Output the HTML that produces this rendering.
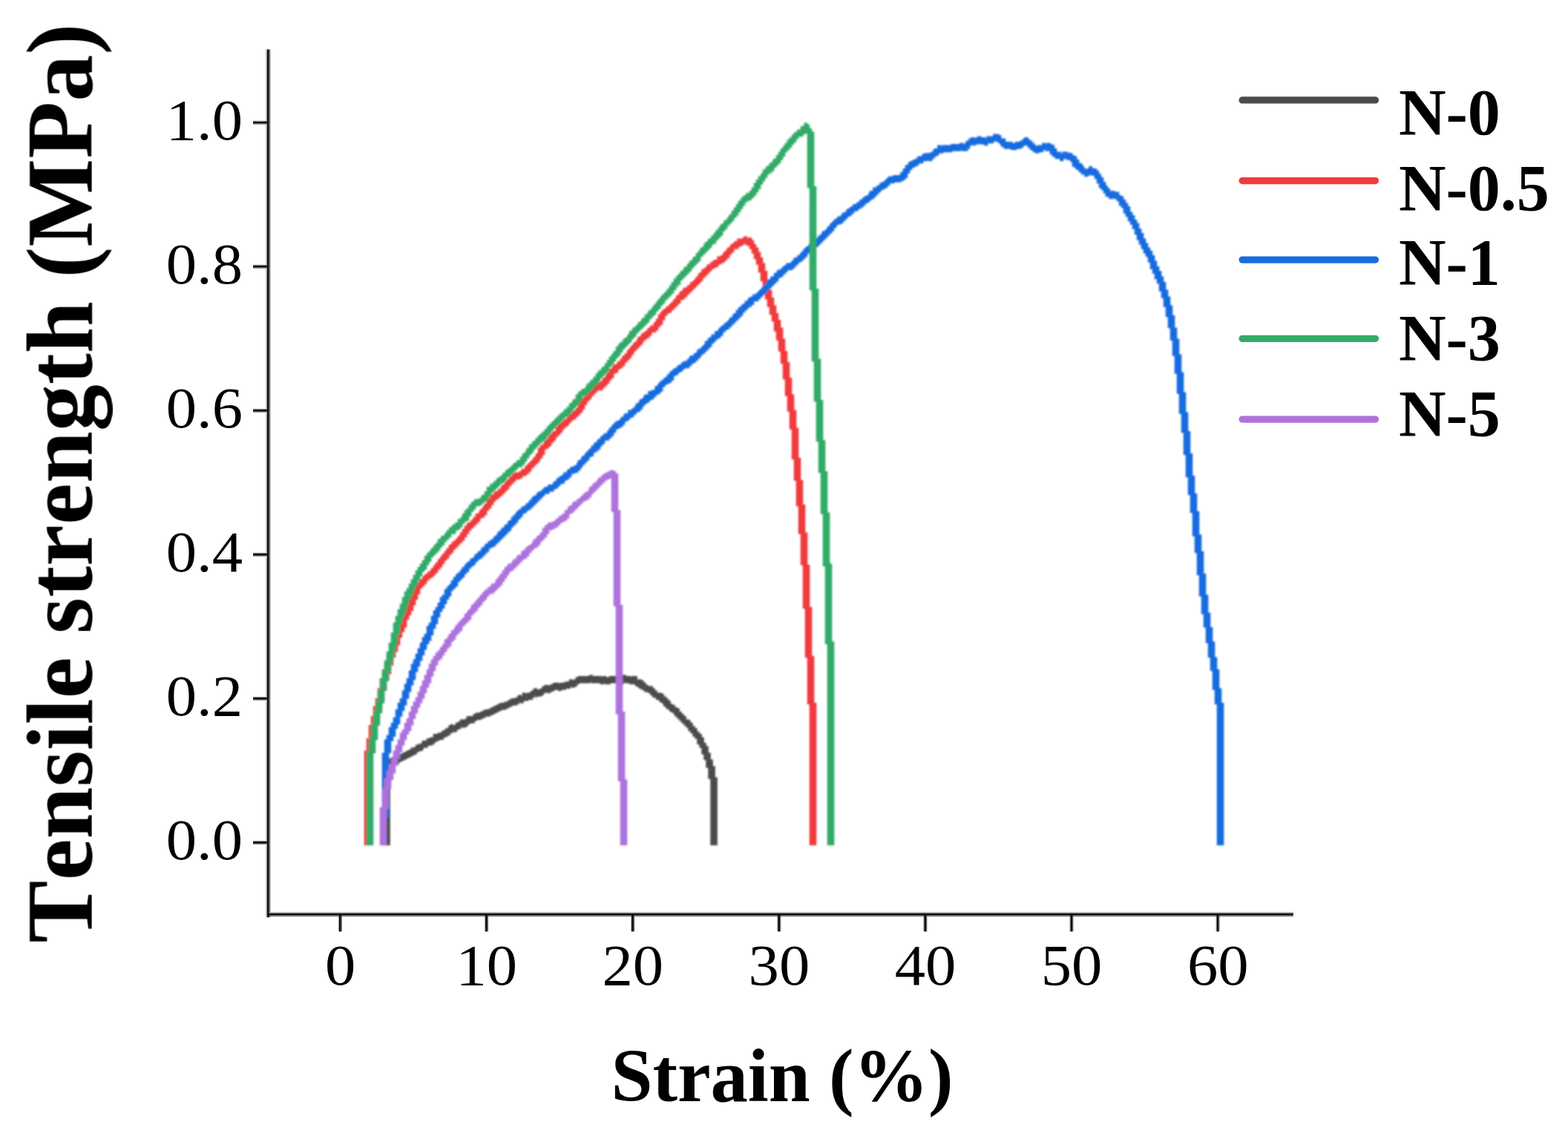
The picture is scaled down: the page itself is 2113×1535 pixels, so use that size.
<!DOCTYPE html>
<html lang="en">
<head>
<meta charset="utf-8">
<title>Tensile strength vs Strain</title>
<style>
html,body{margin:0;padding:0;background:#fff;}
body{width:2113px;height:1535px;overflow:hidden;}
svg{display:block;}
text{font-family:"Liberation Serif",serif;fill:#000;font-kerning:none;}
.t{font-weight:400;}
.b{font-weight:700;}
</style>
</head>
<body>
<svg width="2113" height="1535" viewBox="0 0 2113 1535" role="img" aria-label="Tensile strength (MPa) versus strain (%) for samples N-0, N-0.5, N-1, N-3 and N-5">
<defs><filter id="soft" x="0" y="0" width="2113" height="1535" filterUnits="userSpaceOnUse"><feGaussianBlur stdDeviation="0.7"/></filter>
<filter id="soft2" x="0" y="0" width="2113" height="1535" filterUnits="userSpaceOnUse"><feGaussianBlur stdDeviation="0.8"/></filter></defs>
<rect x="0" y="0" width="2113" height="1535" fill="#ffffff"/>
<g filter="url(#soft)">
<rect x="455.85" y="1232.20" width="1.10" height="23.20" fill="#aaaaaa"/><rect x="459.65" y="1232.20" width="1.30" height="23.20" fill="#707070"/>
<rect x="652.95" y="1232.20" width="1.10" height="23.20" fill="#aaaaaa"/><rect x="656.75" y="1232.20" width="1.30" height="23.20" fill="#707070"/>
<rect x="850.05" y="1232.20" width="1.10" height="23.20" fill="#aaaaaa"/><rect x="853.85" y="1232.20" width="1.30" height="23.20" fill="#707070"/>
<rect x="1047.15" y="1232.20" width="1.10" height="23.20" fill="#aaaaaa"/><rect x="1050.95" y="1232.20" width="1.30" height="23.20" fill="#707070"/>
<rect x="1244.25" y="1232.20" width="1.10" height="23.20" fill="#aaaaaa"/><rect x="1248.05" y="1232.20" width="1.30" height="23.20" fill="#707070"/>
<rect x="1441.35" y="1232.20" width="1.10" height="23.20" fill="#aaaaaa"/><rect x="1445.15" y="1232.20" width="1.30" height="23.20" fill="#707070"/>
<rect x="1638.45" y="1232.20" width="1.10" height="23.20" fill="#aaaaaa"/><rect x="1642.25" y="1232.20" width="1.30" height="23.20" fill="#707070"/>
<rect x="341.00" y="1132.85" width="20.30" height="1.20" fill="#aaaaaa"/><rect x="341.00" y="1136.75" width="20.30" height="1.20" fill="#707070"/>
<rect x="341.00" y="938.79" width="20.30" height="1.20" fill="#aaaaaa"/><rect x="341.00" y="942.69" width="20.30" height="1.20" fill="#707070"/>
<rect x="341.00" y="744.73" width="20.30" height="1.20" fill="#aaaaaa"/><rect x="341.00" y="748.63" width="20.30" height="1.20" fill="#707070"/>
<rect x="341.00" y="550.67" width="20.30" height="1.20" fill="#aaaaaa"/><rect x="341.00" y="554.57" width="20.30" height="1.20" fill="#707070"/>
<rect x="341.00" y="356.61" width="20.30" height="1.20" fill="#aaaaaa"/><rect x="341.00" y="360.51" width="20.30" height="1.20" fill="#707070"/>
<rect x="341.00" y="162.55" width="20.30" height="1.20" fill="#aaaaaa"/><rect x="341.00" y="166.45" width="20.30" height="1.20" fill="#707070"/>
<rect x="358.30" y="66.60" width="1.70" height="1169.70" fill="#aaaaaa"/><rect x="362.60" y="66.60" width="1.70" height="1169.70" fill="#707070"/>
<rect x="360.30" y="1229.20" width="1382.50" height="1.70" fill="#aaaaaa"/><rect x="360.30" y="1233.50" width="1382.50" height="1.70" fill="#707070"/>
<rect x="456.95" y="1232.20" width="2.70" height="23.20" fill="#0c0c0c"/>
<rect x="654.05" y="1232.20" width="2.70" height="23.20" fill="#0c0c0c"/>
<rect x="851.15" y="1232.20" width="2.70" height="23.20" fill="#0c0c0c"/>
<rect x="1048.25" y="1232.20" width="2.70" height="23.20" fill="#0c0c0c"/>
<rect x="1245.35" y="1232.20" width="2.70" height="23.20" fill="#0c0c0c"/>
<rect x="1442.45" y="1232.20" width="2.70" height="23.20" fill="#0c0c0c"/>
<rect x="1639.55" y="1232.20" width="2.70" height="23.20" fill="#0c0c0c"/>
<rect x="341.00" y="1134.05" width="20.30" height="2.70" fill="#0c0c0c"/>
<rect x="341.00" y="939.99" width="20.30" height="2.70" fill="#0c0c0c"/>
<rect x="341.00" y="745.93" width="20.30" height="2.70" fill="#0c0c0c"/>
<rect x="341.00" y="551.87" width="20.30" height="2.70" fill="#0c0c0c"/>
<rect x="341.00" y="357.81" width="20.30" height="2.70" fill="#0c0c0c"/>
<rect x="341.00" y="163.75" width="20.30" height="2.70" fill="#0c0c0c"/>
<rect x="360.00" y="66.60" width="2.60" height="1169.70" fill="#0c0c0c"/>
<rect x="360.30" y="1230.90" width="1382.50" height="2.60" fill="#0c0c0c"/>
<text class="t" transform="translate(458.6,1327) scale(1.06,1)" text-anchor="middle" font-size="78">0</text>
<text class="t" transform="translate(655.7,1327) scale(1.06,1)" text-anchor="middle" font-size="78">10</text>
<text class="t" transform="translate(852.8,1327) scale(1.06,1)" text-anchor="middle" font-size="78">20</text>
<text class="t" transform="translate(1049.9,1327) scale(1.06,1)" text-anchor="middle" font-size="78">30</text>
<text class="t" transform="translate(1247.0,1327) scale(1.06,1)" text-anchor="middle" font-size="78">40</text>
<text class="t" transform="translate(1444.1,1327) scale(1.06,1)" text-anchor="middle" font-size="78">50</text>
<text class="t" transform="translate(1641.2,1327) scale(1.06,1)" text-anchor="middle" font-size="78">60</text>
<text class="t" transform="translate(327.0,1158.4) scale(1.06,1)" text-anchor="end" font-size="78">0.0</text>
<text class="t" transform="translate(327.0,964.3) scale(1.06,1)" text-anchor="end" font-size="78">0.2</text>
<text class="t" transform="translate(327.0,770.3) scale(1.06,1)" text-anchor="end" font-size="78">0.4</text>
<text class="t" transform="translate(327.0,576.2) scale(1.06,1)" text-anchor="end" font-size="78">0.6</text>
<text class="t" transform="translate(327.0,382.2) scale(1.06,1)" text-anchor="end" font-size="78">0.8</text>
<text class="t" transform="translate(327.0,188.1) scale(1.06,1)" text-anchor="end" font-size="78">1.0</text>
<text class="b" x="1054.0" y="1484.4" text-anchor="middle" font-size="100.6">Strain (%)</text>
<text class="b" transform="translate(123.6,651.2) rotate(-90)" text-anchor="middle" font-size="126">Tensile strength (MPa)</text>
</g><g filter="url(#soft2)">
<path d="M516.2 1028.1h2.1v111.2h-2.1zM517.7 1028.1h2.1v111.2h-2.1zM519.2 1026.6h2.1v112.7h-2.1zM520.7 1023.6h2.1v115.7h-2.1zM522.2 1023.6h2.1v115.7h-2.1zM523.7 1022.1h2.1v117.2h-2.1zM525.2 1022.1h2.1v9.6h-2.1zM526.7 1020.6h2.1v11.1h-2.1zM528.2 1020.6h2.1v9.6h-2.1zM529.7 1020.6h2.1v11.1h-2.1zM531.2 1022.1h2.1v9.6h-2.1zM532.7 1020.6h2.1v11.1h-2.1zM534.2 1020.6h2.1v9.6h-2.1zM535.7 1019.1h2.1v11.1h-2.1zM537.2 1017.6h2.1v9.6h-2.1zM538.7 1016.1h2.1v11.1h-2.1zM540.2 1016.1h2.1v9.6h-2.1zM541.7 1014.6h2.1v11.1h-2.1zM543.2 1014.6h2.1v9.6h-2.1zM544.7 1013.1h2.1v11.1h-2.1zM546.2 1013.1h2.1v9.6h-2.1zM547.7 1011.6h2.1v11.1h-2.1zM549.2 1011.6h2.1v9.6h-2.1zM550.7 1010.1h2.1v11.1h-2.1zM552.2 1010.1h2.1v9.6h-2.1zM553.7 1007.1h2.1v12.6h-2.1zM555.2 1008.6h2.1v9.6h-2.1zM556.7 1007.1h2.1v11.1h-2.1zM558.2 1007.1h2.1v9.6h-2.1zM559.7 1004.1h2.1v12.6h-2.1zM561.2 1004.1h2.1v9.6h-2.1zM562.7 1002.6h2.1v11.1h-2.1zM564.2 1002.6h2.1v9.6h-2.1zM565.7 1002.6h2.1v9.6h-2.1zM567.2 1001.1h2.1v11.1h-2.1zM568.7 998.1h2.1v12.6h-2.1zM570.2 998.1h2.1v9.6h-2.1zM571.7 998.1h2.1v9.6h-2.1zM573.2 998.1h2.1v9.6h-2.1zM574.7 995.1h2.1v12.6h-2.1zM576.2 995.1h2.1v9.6h-2.1zM577.7 995.1h2.1v9.6h-2.1zM579.2 993.6h2.1v11.1h-2.1zM580.7 993.6h2.1v11.1h-2.1zM582.2 993.6h2.1v9.6h-2.1zM583.7 989.1h2.1v14.1h-2.1zM585.2 989.1h2.1v11.1h-2.1zM586.7 989.1h2.1v11.1h-2.1zM588.2 989.1h2.1v9.6h-2.1zM589.7 987.6h2.1v11.1h-2.1zM591.2 987.6h2.1v9.6h-2.1zM592.7 987.6h2.1v9.6h-2.1zM594.2 986.1h2.1v11.1h-2.1zM595.7 984.6h2.1v12.6h-2.1zM597.2 984.6h2.1v9.6h-2.1zM598.7 983.1h2.1v11.1h-2.1zM600.2 981.6h2.1v11.1h-2.1zM601.7 981.6h2.1v11.1h-2.1zM603.2 980.1h2.1v11.1h-2.1zM604.7 977.1h2.1v14.1h-2.1zM606.2 977.1h2.1v11.1h-2.1zM607.7 975.6h2.1v12.6h-2.1zM609.2 977.1h2.1v9.6h-2.1zM610.7 977.1h2.1v9.6h-2.1zM612.2 977.1h2.1v9.6h-2.1zM613.7 974.1h2.1v12.6h-2.1zM615.2 974.1h2.1v9.6h-2.1zM616.7 972.6h2.1v11.1h-2.1zM618.2 972.6h2.1v9.6h-2.1zM619.7 969.6h2.1v12.6h-2.1zM621.2 969.6h2.1v9.6h-2.1zM622.7 969.6h2.1v11.1h-2.1zM624.2 969.6h2.1v11.1h-2.1zM625.7 969.6h2.1v11.1h-2.1zM627.2 968.1h2.1v11.1h-2.1zM628.7 965.1h2.1v14.1h-2.1zM630.2 965.1h2.1v11.1h-2.1zM631.7 965.1h2.1v11.1h-2.1zM633.2 965.1h2.1v9.6h-2.1zM634.7 965.1h2.1v9.6h-2.1zM636.2 965.1h2.1v9.6h-2.1zM637.7 962.1h2.1v12.6h-2.1zM639.2 962.1h2.1v9.6h-2.1zM640.7 960.6h2.1v11.1h-2.1zM642.2 960.6h2.1v9.6h-2.1zM643.7 960.6h2.1v9.6h-2.1zM645.2 960.6h2.1v9.6h-2.1zM646.7 959.1h2.1v11.1h-2.1zM648.2 959.1h2.1v9.6h-2.1zM649.7 957.6h2.1v11.1h-2.1zM651.2 957.6h2.1v9.6h-2.1zM652.7 956.1h2.1v11.1h-2.1zM654.2 956.1h2.1v9.6h-2.1zM655.7 956.1h2.1v9.6h-2.1zM657.2 956.1h2.1v9.6h-2.1zM658.7 954.6h2.1v11.1h-2.1zM660.2 954.6h2.1v9.6h-2.1zM661.7 953.1h2.1v11.1h-2.1zM663.2 953.1h2.1v9.6h-2.1zM664.7 951.6h2.1v11.1h-2.1zM666.2 951.6h2.1v9.6h-2.1zM667.7 950.1h2.1v11.1h-2.1zM669.2 950.1h2.1v9.6h-2.1zM670.7 948.6h2.1v11.1h-2.1zM672.2 948.6h2.1v9.6h-2.1zM673.7 947.1h2.1v11.1h-2.1zM675.2 947.1h2.1v9.6h-2.1zM676.7 947.1h2.1v9.6h-2.1zM678.2 947.1h2.1v9.6h-2.1zM679.7 945.6h2.1v11.1h-2.1zM681.2 945.6h2.1v9.6h-2.1zM682.7 945.6h2.1v9.6h-2.1zM684.2 944.1h2.1v9.6h-2.1zM685.7 942.6h2.1v11.1h-2.1zM687.2 942.6h2.1v9.6h-2.1zM688.7 941.1h2.1v11.1h-2.1zM690.2 941.1h2.1v9.6h-2.1zM691.7 941.1h2.1v9.6h-2.1zM693.2 941.1h2.1v9.6h-2.1zM694.7 939.6h2.1v11.1h-2.1zM696.2 939.6h2.1v9.6h-2.1zM697.7 936.6h2.1v12.6h-2.1zM699.2 936.6h2.1v9.6h-2.1zM700.7 936.6h2.1v11.1h-2.1zM702.2 938.1h2.1v9.6h-2.1zM703.7 933.6h2.1v14.1h-2.1zM705.2 933.6h2.1v11.1h-2.1zM706.7 933.6h2.1v11.1h-2.1zM708.2 935.1h2.1v9.6h-2.1zM709.7 933.6h2.1v11.1h-2.1zM711.2 933.6h2.1v9.6h-2.1zM712.7 933.6h2.1v9.6h-2.1zM714.2 932.1h2.1v11.1h-2.1zM715.7 930.6h2.1v12.6h-2.1zM717.2 930.6h2.1v9.6h-2.1zM718.7 927.6h2.1v12.6h-2.1zM720.2 927.6h2.1v9.6h-2.1zM721.7 927.6h2.1v12.6h-2.1zM723.2 929.1h2.1v9.6h-2.1zM724.7 929.1h2.1v9.6h-2.1zM726.2 929.1h2.1v9.6h-2.1zM727.7 927.6h2.1v11.1h-2.1zM729.2 927.6h2.1v9.6h-2.1zM730.7 924.6h2.1v12.6h-2.1zM732.2 924.6h2.1v9.6h-2.1zM733.7 923.1h2.1v11.1h-2.1zM735.2 923.1h2.1v9.6h-2.1zM736.7 923.1h2.1v11.1h-2.1zM738.2 924.6h2.1v9.6h-2.1zM739.7 923.1h2.1v11.1h-2.1zM741.2 923.1h2.1v9.6h-2.1zM742.7 921.6h2.1v11.1h-2.1zM744.2 921.6h2.1v9.6h-2.1zM745.7 920.1h2.1v11.1h-2.1zM747.2 920.1h2.1v9.6h-2.1zM748.7 920.1h2.1v9.6h-2.1zM750.2 920.1h2.1v9.6h-2.1zM751.7 920.1h2.1v11.1h-2.1zM753.2 921.6h2.1v9.6h-2.1zM754.7 920.1h2.1v11.1h-2.1zM756.2 920.1h2.1v9.6h-2.1zM757.7 920.1h2.1v9.6h-2.1zM759.2 920.1h2.1v9.6h-2.1zM760.7 918.6h2.1v11.1h-2.1zM762.2 918.6h2.1v9.6h-2.1zM763.7 918.6h2.1v9.6h-2.1zM765.2 918.6h2.1v9.6h-2.1zM766.7 915.6h2.1v12.6h-2.1zM768.2 915.6h2.1v9.6h-2.1zM769.7 915.6h2.1v11.1h-2.1zM771.2 917.1h2.1v9.6h-2.1zM772.7 915.6h2.1v11.1h-2.1zM774.2 915.6h2.1v9.6h-2.1zM775.7 912.6h2.1v12.6h-2.1zM777.2 912.6h2.1v9.6h-2.1zM778.7 911.1h2.1v11.1h-2.1zM780.2 911.1h2.1v9.6h-2.1zM781.7 911.1h2.1v9.6h-2.1zM783.2 911.1h2.1v9.6h-2.1zM784.7 911.1h2.1v9.6h-2.1zM786.2 911.1h2.1v9.6h-2.1zM787.7 911.1h2.1v9.6h-2.1zM789.2 911.1h2.1v9.6h-2.1zM790.7 911.1h2.1v9.6h-2.1zM792.2 911.1h2.1v9.6h-2.1zM793.7 909.6h2.1v11.1h-2.1zM795.2 909.6h2.1v9.6h-2.1zM796.7 909.6h2.1v11.1h-2.1zM798.2 911.1h2.1v9.6h-2.1zM799.7 911.1h2.1v9.6h-2.1zM801.2 911.1h2.1v9.6h-2.1zM802.7 911.1h2.1v9.6h-2.1zM804.2 911.1h2.1v9.6h-2.1zM805.7 911.1h2.1v9.6h-2.1zM807.2 911.1h2.1v9.6h-2.1zM808.7 911.1h2.1v11.1h-2.1zM810.2 912.6h2.1v9.6h-2.1zM811.7 911.1h2.1v11.1h-2.1zM813.2 911.1h2.1v9.6h-2.1zM814.7 911.1h2.1v11.1h-2.1zM816.2 912.6h2.1v9.6h-2.1zM817.7 912.6h2.1v9.6h-2.1zM819.2 912.6h2.1v9.6h-2.1zM820.7 911.1h2.1v11.1h-2.1zM822.2 911.1h2.1v9.6h-2.1zM823.7 911.1h2.1v9.6h-2.1zM825.2 911.1h2.1v9.6h-2.1zM826.7 911.1h2.1v9.6h-2.1zM828.2 911.1h2.1v9.6h-2.1zM829.7 911.1h2.1v9.6h-2.1zM831.2 911.1h2.1v9.6h-2.1zM832.7 911.1h2.1v9.6h-2.1zM834.2 911.1h2.1v9.6h-2.1zM835.7 911.1h2.1v11.1h-2.1zM837.2 912.6h2.1v9.6h-2.1zM838.7 909.6h2.1v12.6h-2.1zM840.2 909.6h2.1v9.6h-2.1zM841.7 909.6h2.1v11.1h-2.1zM843.2 911.1h2.1v9.6h-2.1zM844.7 911.1h2.1v9.6h-2.1zM846.2 911.1h2.1v9.6h-2.1zM847.7 911.1h2.1v11.1h-2.1zM849.2 912.6h2.1v9.6h-2.1zM850.7 911.1h2.1v11.1h-2.1zM852.2 911.1h2.1v11.1h-2.1zM853.7 911.1h2.1v11.1h-2.1zM855.2 911.1h2.1v12.6h-2.1zM856.7 911.1h2.1v14.1h-2.1zM858.2 915.6h2.1v9.6h-2.1zM859.7 915.6h2.1v11.1h-2.1zM861.2 915.6h2.1v12.6h-2.1zM862.7 915.6h2.1v12.6h-2.1zM864.2 917.1h2.1v12.6h-2.1zM865.7 917.1h2.1v12.6h-2.1zM867.2 920.1h2.1v11.1h-2.1zM868.7 920.1h2.1v12.6h-2.1zM870.2 923.1h2.1v9.6h-2.1zM871.7 923.1h2.1v9.6h-2.1zM873.2 924.6h2.1v9.6h-2.1zM874.7 924.6h2.1v9.6h-2.1zM876.2 924.6h2.1v12.6h-2.1zM877.7 924.6h2.1v12.6h-2.1zM879.2 927.6h2.1v12.6h-2.1zM880.7 927.6h2.1v12.6h-2.1zM882.2 930.6h2.1v9.6h-2.1zM883.7 930.6h2.1v12.6h-2.1zM885.2 933.6h2.1v9.6h-2.1zM886.7 933.6h2.1v9.6h-2.1zM888.2 933.6h2.1v12.6h-2.1zM889.7 933.6h2.1v12.6h-2.1zM891.2 935.1h2.1v12.6h-2.1zM892.7 935.1h2.1v14.1h-2.1zM894.2 939.6h2.1v12.6h-2.1zM895.7 938.1h2.1v14.1h-2.1zM897.2 941.1h2.1v14.1h-2.1zM898.7 941.1h2.1v14.1h-2.1zM900.2 944.1h2.1v12.6h-2.1zM901.7 944.1h2.1v14.1h-2.1zM903.2 948.6h2.1v11.1h-2.1zM904.7 948.6h2.1v11.1h-2.1zM906.2 950.1h2.1v11.1h-2.1zM907.7 950.1h2.1v12.6h-2.1zM909.2 953.1h2.1v12.6h-2.1zM910.7 953.1h2.1v12.6h-2.1zM912.2 954.6h2.1v14.1h-2.1zM913.7 954.6h2.1v14.1h-2.1zM915.2 959.1h2.1v12.6h-2.1zM916.7 959.1h2.1v12.6h-2.1zM918.2 962.1h2.1v12.6h-2.1zM919.7 962.1h2.1v12.6h-2.1zM921.2 965.1h2.1v12.6h-2.1zM922.7 965.1h2.1v12.6h-2.1zM924.2 969.6h2.1v11.1h-2.1zM925.7 969.6h2.1v11.1h-2.1zM927.2 969.6h2.1v15.6h-2.1zM928.7 971.1h2.1v14.1h-2.1zM930.2 974.1h2.1v14.1h-2.1zM931.7 974.1h2.1v14.1h-2.1zM933.2 978.6h2.1v14.1h-2.1zM934.7 978.6h2.1v14.1h-2.1zM936.2 981.6h2.1v14.1h-2.1zM937.7 981.6h2.1v14.1h-2.1zM939.2 986.1h2.1v17.1h-2.1zM940.7 986.1h2.1v17.1h-2.1zM942.2 989.1h2.1v18.6h-2.1zM943.7 989.1h2.1v18.6h-2.1zM945.2 993.6h2.1v23.1h-2.1zM946.7 993.6h2.1v23.1h-2.1zM948.2 1001.1h2.1v23.1h-2.1zM949.7 1001.1h2.1v23.1h-2.1zM951.2 1005.6h2.1v29.1h-2.1zM952.7 1005.6h2.1v29.1h-2.1zM954.2 1014.6h2.1v35.1h-2.1zM955.7 1014.6h2.1v35.1h-2.1zM957.2 1023.6h2.1v115.7h-2.1zM958.7 1023.6h2.1v115.7h-2.1zM960.2 1032.6h2.1v106.7h-2.1zM961.7 1032.6h2.1v106.7h-2.1zM963.2 1047.6h2.1v91.7h-2.1zM964.7 1047.6h2.1v91.7h-2.1z" fill="#4b4b4b"/>
<path d="M490.7 1011.6h2.1v127.7h-2.1zM492.2 1011.6h2.1v127.7h-2.1zM493.7 995.1h2.1v144.2h-2.1zM495.2 995.1h2.1v144.2h-2.1zM496.7 977.1h2.1v162.2h-2.1zM498.2 977.1h2.1v162.2h-2.1zM499.7 965.1h2.1v50.1h-2.1zM501.2 965.1h2.1v50.1h-2.1zM502.7 951.6h2.1v45.6h-2.1zM504.2 951.6h2.1v45.6h-2.1zM505.7 941.1h2.1v38.1h-2.1zM507.2 941.1h2.1v38.1h-2.1zM508.7 927.6h2.1v39.6h-2.1zM510.2 927.6h2.1v39.6h-2.1zM511.7 915.6h2.1v38.1h-2.1zM513.2 915.6h2.1v38.1h-2.1zM514.7 906.6h2.1v36.6h-2.1zM516.2 906.6h2.1v36.6h-2.1zM517.7 896.1h2.1v33.6h-2.1zM519.2 896.1h2.1v33.6h-2.1zM520.7 885.6h2.1v32.1h-2.1zM522.2 885.6h2.1v32.1h-2.1zM523.7 876.6h2.1v32.1h-2.1zM525.2 876.6h2.1v32.1h-2.1zM526.7 867.6h2.1v29.1h-2.1zM528.2 867.6h2.1v29.1h-2.1zM529.7 857.1h2.1v29.1h-2.1zM531.2 857.1h2.1v29.1h-2.1zM532.7 849.6h2.1v29.1h-2.1zM534.2 849.6h2.1v29.1h-2.1zM535.7 843.6h2.1v26.1h-2.1zM537.2 843.6h2.1v26.1h-2.1zM538.7 833.1h2.1v26.1h-2.1zM540.2 833.1h2.1v26.1h-2.1zM541.7 827.1h2.1v24.6h-2.1zM543.2 827.1h2.1v24.6h-2.1zM544.7 821.1h2.1v24.6h-2.1zM546.2 821.1h2.1v24.6h-2.1zM547.7 812.1h2.1v23.1h-2.1zM549.2 812.1h2.1v23.1h-2.1zM550.7 807.6h2.1v21.6h-2.1zM552.2 807.6h2.1v21.6h-2.1zM553.7 798.6h2.1v24.6h-2.1zM555.2 798.6h2.1v24.6h-2.1zM556.7 791.1h2.1v24.6h-2.1zM558.2 791.1h2.1v24.6h-2.1zM559.7 786.6h2.1v21.6h-2.1zM561.2 786.6h2.1v21.6h-2.1zM562.7 785.1h2.1v15.6h-2.1zM564.2 782.1h2.1v18.6h-2.1zM565.7 780.6h2.1v12.6h-2.1zM567.2 780.6h2.1v12.6h-2.1zM568.7 777.6h2.1v12.6h-2.1zM570.2 776.1h2.1v14.1h-2.1zM571.7 774.6h2.1v12.6h-2.1zM573.2 773.1h2.1v14.1h-2.1zM574.7 773.1h2.1v9.6h-2.1zM576.2 770.1h2.1v12.6h-2.1zM577.7 770.1h2.1v9.6h-2.1zM579.2 768.6h2.1v11.1h-2.1zM580.7 765.6h2.1v12.6h-2.1zM582.2 765.6h2.1v12.6h-2.1zM583.7 762.6h2.1v12.6h-2.1zM585.2 761.1h2.1v14.1h-2.1zM586.7 758.1h2.1v14.1h-2.1zM588.2 758.1h2.1v14.1h-2.1zM589.7 753.6h2.1v14.1h-2.1zM591.2 753.6h2.1v14.1h-2.1zM592.7 750.6h2.1v14.1h-2.1zM594.2 749.1h2.1v15.6h-2.1zM595.7 746.1h2.1v14.1h-2.1zM597.2 746.1h2.1v14.1h-2.1zM598.7 743.1h2.1v12.6h-2.1zM600.2 741.6h2.1v14.1h-2.1zM601.7 738.6h2.1v14.1h-2.1zM603.2 738.6h2.1v14.1h-2.1zM604.7 734.1h2.1v14.1h-2.1zM606.2 734.1h2.1v14.1h-2.1zM607.7 732.6h2.1v12.6h-2.1zM609.2 729.6h2.1v15.6h-2.1zM610.7 729.6h2.1v11.1h-2.1zM612.2 728.1h2.1v12.6h-2.1zM613.7 726.6h2.1v11.1h-2.1zM615.2 725.1h2.1v12.6h-2.1zM616.7 722.1h2.1v12.6h-2.1zM618.2 722.1h2.1v12.6h-2.1zM619.7 717.6h2.1v14.1h-2.1zM621.2 717.6h2.1v14.1h-2.1zM622.7 713.1h2.1v15.6h-2.1zM624.2 713.1h2.1v15.6h-2.1zM625.7 708.6h2.1v15.6h-2.1zM627.2 708.6h2.1v15.6h-2.1zM628.7 705.6h2.1v14.1h-2.1zM630.2 704.1h2.1v15.6h-2.1zM631.7 704.1h2.1v11.1h-2.1zM633.2 702.6h2.1v12.6h-2.1zM634.7 701.1h2.1v11.1h-2.1zM636.2 699.6h2.1v12.6h-2.1zM637.7 696.6h2.1v12.6h-2.1zM639.2 696.6h2.1v12.6h-2.1zM640.7 692.1h2.1v14.1h-2.1zM642.2 692.1h2.1v14.1h-2.1zM643.7 692.1h2.1v11.1h-2.1zM645.2 689.1h2.1v14.1h-2.1zM646.7 686.1h2.1v12.6h-2.1zM648.2 686.1h2.1v12.6h-2.1zM649.7 683.1h2.1v14.1h-2.1zM651.2 681.6h2.1v15.6h-2.1zM652.7 678.6h2.1v15.6h-2.1zM654.2 678.6h2.1v15.6h-2.1zM655.7 672.6h2.1v15.6h-2.1zM657.2 672.6h2.1v15.6h-2.1zM658.7 671.1h2.1v14.1h-2.1zM660.2 668.1h2.1v17.1h-2.1zM661.7 666.6h2.1v14.1h-2.1zM663.2 666.6h2.1v14.1h-2.1zM664.7 665.1h2.1v11.1h-2.1zM666.2 662.1h2.1v14.1h-2.1zM667.7 662.1h2.1v11.1h-2.1zM669.2 662.1h2.1v11.1h-2.1zM670.7 659.1h2.1v12.6h-2.1zM672.2 659.1h2.1v11.1h-2.1zM673.7 657.6h2.1v11.1h-2.1zM675.2 654.6h2.1v14.1h-2.1zM676.7 653.1h2.1v12.6h-2.1zM678.2 653.1h2.1v12.6h-2.1zM679.7 650.1h2.1v12.6h-2.1zM681.2 648.6h2.1v14.1h-2.1zM682.7 647.1h2.1v12.6h-2.1zM684.2 645.6h2.1v14.1h-2.1zM685.7 642.6h2.1v12.6h-2.1zM687.2 642.6h2.1v12.6h-2.1zM688.7 641.1h2.1v11.1h-2.1zM690.2 638.1h2.1v14.1h-2.1zM691.7 638.1h2.1v11.1h-2.1zM693.2 636.6h2.1v12.6h-2.1zM694.7 636.6h2.1v9.6h-2.1zM696.2 636.6h2.1v9.6h-2.1zM697.7 636.6h2.1v9.6h-2.1zM699.2 635.1h2.1v11.1h-2.1zM700.7 635.1h2.1v9.6h-2.1zM702.2 632.1h2.1v12.6h-2.1zM703.7 632.1h2.1v9.6h-2.1zM705.2 632.1h2.1v9.6h-2.1zM706.7 629.1h2.1v12.6h-2.1zM708.2 627.6h2.1v12.6h-2.1zM709.7 626.1h2.1v12.6h-2.1zM711.2 624.6h2.1v14.1h-2.1zM712.7 623.1h2.1v12.6h-2.1zM714.2 621.6h2.1v14.1h-2.1zM715.7 620.1h2.1v11.1h-2.1zM717.2 618.6h2.1v12.6h-2.1zM718.7 615.6h2.1v12.6h-2.1zM720.2 615.6h2.1v12.6h-2.1zM721.7 611.1h2.1v14.1h-2.1zM723.2 611.1h2.1v14.1h-2.1zM724.7 603.6h2.1v18.6h-2.1zM726.2 603.6h2.1v18.6h-2.1zM727.7 600.6h2.1v17.1h-2.1zM729.2 599.1h2.1v18.6h-2.1zM730.7 599.1h2.1v14.1h-2.1zM732.2 596.1h2.1v17.1h-2.1zM733.7 593.1h2.1v12.6h-2.1zM735.2 593.1h2.1v12.6h-2.1zM736.7 591.6h2.1v12.6h-2.1zM738.2 588.6h2.1v15.6h-2.1zM739.7 585.6h2.1v15.6h-2.1zM741.2 585.6h2.1v15.6h-2.1zM742.7 584.1h2.1v12.6h-2.1zM744.2 581.1h2.1v15.6h-2.1zM745.7 581.1h2.1v12.6h-2.1zM747.2 581.1h2.1v12.6h-2.1zM748.7 575.1h2.1v14.1h-2.1zM750.2 575.1h2.1v14.1h-2.1zM751.7 572.1h2.1v14.1h-2.1zM753.2 570.6h2.1v15.6h-2.1zM754.7 570.6h2.1v12.6h-2.1zM756.2 567.6h2.1v15.6h-2.1zM757.7 567.6h2.1v11.1h-2.1zM759.2 566.1h2.1v12.6h-2.1zM760.7 564.6h2.1v11.1h-2.1zM762.2 564.6h2.1v11.1h-2.1zM763.7 561.6h2.1v12.6h-2.1zM765.2 560.1h2.1v12.6h-2.1zM766.7 558.6h2.1v11.1h-2.1zM768.2 557.1h2.1v12.6h-2.1zM769.7 557.1h2.1v9.6h-2.1zM771.2 554.1h2.1v12.6h-2.1zM772.7 554.1h2.1v11.1h-2.1zM774.2 552.6h2.1v12.6h-2.1zM775.7 549.6h2.1v12.6h-2.1zM777.2 549.6h2.1v12.6h-2.1zM778.7 543.6h2.1v15.6h-2.1zM780.2 543.6h2.1v15.6h-2.1zM781.7 539.1h2.1v17.1h-2.1zM783.2 539.1h2.1v17.1h-2.1zM784.7 536.1h2.1v15.6h-2.1zM786.2 534.6h2.1v17.1h-2.1zM787.7 531.6h2.1v14.1h-2.1zM789.2 531.6h2.1v14.1h-2.1zM790.7 528.6h2.1v12.6h-2.1zM792.2 528.6h2.1v12.6h-2.1zM793.7 525.6h2.1v12.6h-2.1zM795.2 524.1h2.1v14.1h-2.1zM796.7 522.6h2.1v11.1h-2.1zM798.2 521.1h2.1v12.6h-2.1zM799.7 519.6h2.1v11.1h-2.1zM801.2 518.1h2.1v12.6h-2.1zM802.7 518.1h2.1v9.6h-2.1zM804.2 515.1h2.1v12.6h-2.1zM805.7 515.1h2.1v9.6h-2.1zM807.2 515.1h2.1v11.1h-2.1zM808.7 513.6h2.1v12.6h-2.1zM810.2 513.6h2.1v12.6h-2.1zM811.7 509.1h2.1v14.1h-2.1zM813.2 509.1h2.1v14.1h-2.1zM814.7 507.6h2.1v12.6h-2.1zM816.2 504.6h2.1v15.6h-2.1zM817.7 501.6h2.1v15.6h-2.1zM819.2 501.6h2.1v15.6h-2.1zM820.7 497.1h2.1v15.6h-2.1zM822.2 497.1h2.1v15.6h-2.1zM823.7 495.6h2.1v14.1h-2.1zM825.2 492.6h2.1v17.1h-2.1zM826.7 491.1h2.1v12.6h-2.1zM828.2 491.1h2.1v12.6h-2.1zM829.7 491.1h2.1v11.1h-2.1zM831.2 488.1h2.1v14.1h-2.1zM832.7 486.6h2.1v11.1h-2.1zM834.2 486.6h2.1v11.1h-2.1zM835.7 483.6h2.1v12.6h-2.1zM837.2 482.1h2.1v14.1h-2.1zM838.7 479.1h2.1v14.1h-2.1zM840.2 479.1h2.1v14.1h-2.1zM841.7 476.1h2.1v12.6h-2.1zM843.2 476.1h2.1v12.6h-2.1zM844.7 471.6h2.1v14.1h-2.1zM846.2 471.6h2.1v14.1h-2.1zM847.7 468.6h2.1v14.1h-2.1zM849.2 467.1h2.1v15.6h-2.1zM850.7 465.6h2.1v12.6h-2.1zM852.2 464.1h2.1v14.1h-2.1zM853.7 461.1h2.1v12.6h-2.1zM855.2 461.1h2.1v12.6h-2.1zM856.7 459.6h2.1v11.1h-2.1zM858.2 456.6h2.1v14.1h-2.1zM859.7 453.6h2.1v14.1h-2.1zM861.2 453.6h2.1v14.1h-2.1zM862.7 452.1h2.1v12.6h-2.1zM864.2 449.1h2.1v15.6h-2.1zM865.7 449.1h2.1v11.1h-2.1zM867.2 447.6h2.1v12.6h-2.1zM868.7 446.1h2.1v11.1h-2.1zM870.2 446.1h2.1v11.1h-2.1zM871.7 443.1h2.1v12.6h-2.1zM873.2 441.6h2.1v14.1h-2.1zM874.7 441.6h2.1v11.1h-2.1zM876.2 438.6h2.1v14.1h-2.1zM877.7 438.6h2.1v9.6h-2.1zM879.2 438.6h2.1v9.6h-2.1zM880.7 434.1h2.1v14.1h-2.1zM882.2 434.1h2.1v14.1h-2.1zM883.7 429.6h2.1v15.6h-2.1zM885.2 429.6h2.1v15.6h-2.1zM886.7 423.6h2.1v17.1h-2.1zM888.2 423.6h2.1v17.1h-2.1zM889.7 420.6h2.1v17.1h-2.1zM891.2 419.1h2.1v18.6h-2.1zM892.7 417.6h2.1v14.1h-2.1zM894.2 416.1h2.1v15.6h-2.1zM895.7 416.1h2.1v9.6h-2.1zM897.2 413.1h2.1v12.6h-2.1zM898.7 413.1h2.1v9.6h-2.1zM900.2 411.6h2.1v11.1h-2.1zM901.7 410.1h2.1v11.1h-2.1zM903.2 408.6h2.1v12.6h-2.1zM904.7 407.1h2.1v11.1h-2.1zM906.2 405.6h2.1v12.6h-2.1zM907.7 402.6h2.1v12.6h-2.1zM909.2 402.6h2.1v12.6h-2.1zM910.7 398.1h2.1v14.1h-2.1zM912.2 398.1h2.1v14.1h-2.1zM913.7 396.6h2.1v12.6h-2.1zM915.2 393.6h2.1v15.6h-2.1zM916.7 392.1h2.1v12.6h-2.1zM918.2 392.1h2.1v12.6h-2.1zM919.7 389.1h2.1v14.1h-2.1zM921.2 387.6h2.1v15.6h-2.1zM922.7 387.6h2.1v12.6h-2.1zM924.2 387.6h2.1v12.6h-2.1zM925.7 384.6h2.1v12.6h-2.1zM927.2 384.6h2.1v12.6h-2.1zM928.7 383.1h2.1v11.1h-2.1zM930.2 380.1h2.1v14.1h-2.1zM931.7 380.1h2.1v11.1h-2.1zM933.2 378.6h2.1v12.6h-2.1zM934.7 377.1h2.1v11.1h-2.1zM936.2 375.6h2.1v12.6h-2.1zM937.7 372.6h2.1v12.6h-2.1zM939.2 372.6h2.1v12.6h-2.1zM940.7 368.1h2.1v14.1h-2.1zM942.2 368.1h2.1v14.1h-2.1zM943.7 366.6h2.1v12.6h-2.1zM945.2 363.6h2.1v15.6h-2.1zM946.7 362.1h2.1v12.6h-2.1zM948.2 362.1h2.1v12.6h-2.1zM949.7 360.6h2.1v11.1h-2.1zM951.2 359.1h2.1v12.6h-2.1zM952.7 356.1h2.1v12.6h-2.1zM954.2 356.1h2.1v12.6h-2.1zM955.7 356.1h2.1v9.6h-2.1zM957.2 353.1h2.1v12.6h-2.1zM958.7 353.1h2.1v9.6h-2.1zM960.2 351.6h2.1v11.1h-2.1zM961.7 350.1h2.1v11.1h-2.1zM963.2 350.1h2.1v11.1h-2.1zM964.7 350.1h2.1v9.6h-2.1zM966.2 345.6h2.1v14.1h-2.1zM967.7 345.6h2.1v11.1h-2.1zM969.2 345.6h2.1v11.1h-2.1zM970.7 344.1h2.1v11.1h-2.1zM972.2 344.1h2.1v11.1h-2.1zM973.7 341.1h2.1v12.6h-2.1zM975.2 339.6h2.1v14.1h-2.1zM976.7 338.1h2.1v12.6h-2.1zM978.2 336.6h2.1v14.1h-2.1zM979.7 333.6h2.1v14.1h-2.1zM981.2 333.6h2.1v14.1h-2.1zM982.7 332.1h2.1v11.1h-2.1zM984.2 329.1h2.1v14.1h-2.1zM985.7 329.1h2.1v11.1h-2.1zM987.2 327.6h2.1v12.6h-2.1zM988.7 326.1h2.1v9.6h-2.1zM990.2 324.6h2.1v11.1h-2.1zM991.7 326.1h2.1v9.6h-2.1zM993.2 321.6h2.1v14.1h-2.1zM994.7 321.6h2.1v11.1h-2.1zM996.2 321.6h2.1v11.1h-2.1zM997.7 321.6h2.1v9.6h-2.1zM999.2 321.6h2.1v9.6h-2.1zM1000.7 320.1h2.1v9.6h-2.1zM1002.2 318.6h2.1v11.1h-2.1zM1003.7 318.6h2.1v9.6h-2.1zM1005.2 318.6h2.1v12.6h-2.1zM1006.7 321.6h2.1v9.6h-2.1zM1008.2 320.1h2.1v11.1h-2.1zM1009.7 320.1h2.1v15.6h-2.1zM1011.2 320.1h2.1v15.6h-2.1zM1012.7 323.1h2.1v18.6h-2.1zM1014.2 324.6h2.1v17.1h-2.1zM1015.7 329.1h2.1v20.1h-2.1zM1017.2 329.1h2.1v20.1h-2.1zM1018.7 333.6h2.1v23.1h-2.1zM1020.2 333.6h2.1v23.1h-2.1zM1021.7 339.6h2.1v27.6h-2.1zM1023.2 339.6h2.1v27.6h-2.1zM1024.7 347.1h2.1v32.1h-2.1zM1026.2 347.1h2.1v32.1h-2.1zM1027.7 354.6h2.1v38.1h-2.1zM1029.2 354.6h2.1v38.1h-2.1zM1030.7 365.1h2.1v38.1h-2.1zM1032.2 365.1h2.1v38.1h-2.1zM1033.7 377.1h2.1v36.6h-2.1zM1035.2 377.1h2.1v36.6h-2.1zM1036.7 390.6h2.1v33.6h-2.1zM1038.2 390.6h2.1v33.6h-2.1zM1039.7 401.1h2.1v32.1h-2.1zM1041.2 401.1h2.1v32.1h-2.1zM1042.7 411.6h2.1v35.1h-2.1zM1044.2 411.6h2.1v35.1h-2.1zM1045.7 422.1h2.1v36.6h-2.1zM1047.2 422.1h2.1v36.6h-2.1zM1048.7 431.1h2.1v42.6h-2.1zM1050.2 431.1h2.1v42.6h-2.1zM1051.7 441.6h2.1v48.6h-2.1zM1053.2 441.6h2.1v48.6h-2.1zM1054.7 456.6h2.1v54.6h-2.1zM1056.2 456.6h2.1v54.6h-2.1zM1057.7 473.1h2.1v60.6h-2.1zM1059.2 473.1h2.1v60.6h-2.1zM1060.7 488.1h2.1v66.6h-2.1zM1062.2 488.1h2.1v66.6h-2.1zM1063.7 509.1h2.1v69.6h-2.1zM1065.2 509.1h2.1v69.6h-2.1zM1066.7 531.6h2.1v87.6h-2.1zM1068.2 531.6h2.1v87.6h-2.1zM1069.7 552.6h2.1v95.1h-2.1zM1071.2 552.6h2.1v95.1h-2.1zM1072.7 576.6h2.1v105.6h-2.1zM1074.2 576.6h2.1v105.6h-2.1zM1075.7 617.1h2.1v102.6h-2.1zM1077.2 617.1h2.1v102.6h-2.1zM1078.7 647.1h2.1v114.6h-2.1zM1080.2 647.1h2.1v114.6h-2.1zM1081.7 680.1h2.1v140.1h-2.1zM1083.2 680.1h2.1v140.1h-2.1zM1084.7 717.6h2.1v168.6h-2.1zM1086.2 717.6h2.1v168.6h-2.1zM1087.7 761.1h2.1v188.1h-2.1zM1089.2 761.1h2.1v188.1h-2.1zM1090.7 818.1h2.1v321.2h-2.1zM1092.2 818.1h2.1v321.2h-2.1zM1093.7 884.1h2.1v255.2h-2.1zM1095.2 884.1h2.1v255.2h-2.1zM1096.7 947.1h2.1v192.2h-2.1zM1098.2 947.1h2.1v192.2h-2.1z" fill="#F03A3C"/>
<path d="M514.7 1014.6h2.1v87.6h-2.1zM516.2 1014.6h2.1v87.6h-2.1zM517.7 996.6h2.1v105.6h-2.1zM519.2 996.6h2.1v105.6h-2.1zM520.7 990.6h2.1v111.6h-2.1zM522.2 990.6h2.1v111.6h-2.1zM523.7 980.1h2.1v35.1h-2.1zM525.2 980.1h2.1v35.1h-2.1zM526.7 974.1h2.1v24.6h-2.1zM528.2 974.1h2.1v24.6h-2.1zM529.7 966.6h2.1v26.1h-2.1zM531.2 966.6h2.1v26.1h-2.1zM532.7 956.1h2.1v9.6h-2.1zM532.7 966.6h2.1v15.6h-2.1zM534.2 956.1h2.1v26.1h-2.1zM535.7 947.1h2.1v29.1h-2.1zM537.2 947.1h2.1v29.1h-2.1zM538.7 941.1h2.1v24.6h-2.1zM540.2 941.1h2.1v24.6h-2.1zM541.7 930.6h2.1v27.6h-2.1zM543.2 930.6h2.1v27.6h-2.1zM544.7 921.6h2.1v29.1h-2.1zM546.2 921.6h2.1v29.1h-2.1zM547.7 914.1h2.1v27.6h-2.1zM549.2 914.1h2.1v27.6h-2.1zM550.7 903.6h2.1v29.1h-2.1zM552.2 903.6h2.1v29.1h-2.1zM553.7 894.6h2.1v29.1h-2.1zM555.2 894.6h2.1v29.1h-2.1zM556.7 888.6h2.1v27.6h-2.1zM558.2 888.6h2.1v27.6h-2.1zM559.7 881.1h2.1v24.6h-2.1zM561.2 881.1h2.1v24.6h-2.1zM562.7 873.6h2.1v24.6h-2.1zM564.2 873.6h2.1v24.6h-2.1zM565.7 866.1h2.1v24.6h-2.1zM567.2 866.1h2.1v24.6h-2.1zM568.7 858.6h2.1v24.6h-2.1zM570.2 858.6h2.1v24.6h-2.1zM571.7 854.1h2.1v21.6h-2.1zM573.2 854.1h2.1v21.6h-2.1zM574.7 843.6h2.1v24.6h-2.1zM576.2 843.6h2.1v24.6h-2.1zM577.7 839.1h2.1v24.6h-2.1zM579.2 839.1h2.1v24.6h-2.1zM580.7 830.1h2.1v26.1h-2.1zM582.2 830.1h2.1v26.1h-2.1zM583.7 822.6h2.1v24.6h-2.1zM585.2 822.6h2.1v24.6h-2.1zM586.7 818.1h2.1v23.1h-2.1zM588.2 818.1h2.1v23.1h-2.1zM589.7 812.1h2.1v20.1h-2.1zM591.2 812.1h2.1v20.1h-2.1zM592.7 804.6h2.1v20.1h-2.1zM594.2 804.6h2.1v20.1h-2.1zM595.7 801.6h2.1v18.6h-2.1zM597.2 801.6h2.1v18.6h-2.1zM598.7 794.1h2.1v20.1h-2.1zM600.2 794.1h2.1v20.1h-2.1zM601.7 791.1h2.1v17.1h-2.1zM603.2 789.6h2.1v18.6h-2.1zM604.7 788.1h2.1v15.6h-2.1zM606.2 786.6h2.1v17.1h-2.1zM607.7 782.1h2.1v14.1h-2.1zM609.2 782.1h2.1v14.1h-2.1zM610.7 777.6h2.1v15.6h-2.1zM612.2 777.6h2.1v15.6h-2.1zM613.7 774.6h2.1v15.6h-2.1zM615.2 773.1h2.1v17.1h-2.1zM616.7 771.6h2.1v12.6h-2.1zM618.2 771.6h2.1v12.6h-2.1zM619.7 768.6h2.1v12.6h-2.1zM621.2 767.1h2.1v14.1h-2.1zM622.7 764.1h2.1v14.1h-2.1zM624.2 764.1h2.1v14.1h-2.1zM625.7 761.1h2.1v12.6h-2.1zM627.2 759.6h2.1v14.1h-2.1zM628.7 758.1h2.1v12.6h-2.1zM630.2 756.6h2.1v14.1h-2.1zM631.7 756.6h2.1v9.6h-2.1zM633.2 753.6h2.1v12.6h-2.1zM634.7 752.1h2.1v11.1h-2.1zM636.2 752.1h2.1v11.1h-2.1zM637.7 750.6h2.1v11.1h-2.1zM639.2 747.6h2.1v12.6h-2.1zM640.7 746.1h2.1v11.1h-2.1zM642.2 746.1h2.1v11.1h-2.1zM643.7 743.1h2.1v11.1h-2.1zM645.2 743.1h2.1v11.1h-2.1zM646.7 741.6h2.1v11.1h-2.1zM648.2 738.6h2.1v14.1h-2.1zM649.7 737.1h2.1v12.6h-2.1zM651.2 737.1h2.1v12.6h-2.1zM652.7 734.1h2.1v12.6h-2.1zM654.2 732.6h2.1v14.1h-2.1zM655.7 732.6h2.1v11.1h-2.1zM657.2 729.6h2.1v14.1h-2.1zM658.7 729.6h2.1v9.6h-2.1zM660.2 728.1h2.1v11.1h-2.1zM661.7 726.6h2.1v11.1h-2.1zM663.2 726.6h2.1v11.1h-2.1zM664.7 723.6h2.1v12.6h-2.1zM666.2 722.1h2.1v14.1h-2.1zM667.7 722.1h2.1v11.1h-2.1zM669.2 719.1h2.1v14.1h-2.1zM670.7 716.1h2.1v14.1h-2.1zM672.2 716.1h2.1v14.1h-2.1zM673.7 714.6h2.1v12.6h-2.1zM675.2 711.6h2.1v15.6h-2.1zM676.7 711.6h2.1v12.6h-2.1zM678.2 710.1h2.1v14.1h-2.1zM679.7 707.1h2.1v14.1h-2.1zM681.2 707.1h2.1v14.1h-2.1zM682.7 705.6h2.1v12.6h-2.1zM684.2 702.6h2.1v15.6h-2.1zM685.7 701.1h2.1v14.1h-2.1zM687.2 701.1h2.1v14.1h-2.1zM688.7 696.6h2.1v14.1h-2.1zM690.2 696.6h2.1v14.1h-2.1zM691.7 693.6h2.1v14.1h-2.1zM693.2 693.6h2.1v14.1h-2.1zM694.7 690.6h2.1v14.1h-2.1zM696.2 689.1h2.1v15.6h-2.1zM697.7 687.6h2.1v12.6h-2.1zM699.2 686.1h2.1v14.1h-2.1zM700.7 686.1h2.1v11.1h-2.1zM702.2 683.1h2.1v14.1h-2.1zM703.7 683.1h2.1v9.6h-2.1zM705.2 681.6h2.1v11.1h-2.1zM706.7 681.6h2.1v9.6h-2.1zM708.2 678.6h2.1v12.6h-2.1zM709.7 678.6h2.1v9.6h-2.1zM711.2 677.1h2.1v11.1h-2.1zM712.7 674.1h2.1v12.6h-2.1zM714.2 674.1h2.1v12.6h-2.1zM715.7 671.1h2.1v12.6h-2.1zM717.2 669.6h2.1v14.1h-2.1zM718.7 668.1h2.1v12.6h-2.1zM720.2 668.1h2.1v12.6h-2.1zM721.7 666.6h2.1v11.1h-2.1zM723.2 663.6h2.1v14.1h-2.1zM724.7 663.6h2.1v11.1h-2.1zM726.2 662.1h2.1v12.6h-2.1zM727.7 662.1h2.1v9.6h-2.1zM729.2 660.6h2.1v11.1h-2.1zM730.7 659.1h2.1v9.6h-2.1zM732.2 657.6h2.1v11.1h-2.1zM733.7 656.1h2.1v9.6h-2.1zM735.2 656.1h2.1v9.6h-2.1zM736.7 656.1h2.1v9.6h-2.1zM738.2 653.1h2.1v12.6h-2.1zM739.7 653.1h2.1v9.6h-2.1zM741.2 653.1h2.1v9.6h-2.1zM742.7 653.1h2.1v9.6h-2.1zM744.2 651.6h2.1v11.1h-2.1zM745.7 648.6h2.1v11.1h-2.1zM747.2 648.6h2.1v11.1h-2.1zM748.7 647.1h2.1v11.1h-2.1zM750.2 644.1h2.1v14.1h-2.1zM751.7 644.1h2.1v11.1h-2.1zM753.2 642.6h2.1v12.6h-2.1zM754.7 641.1h2.1v11.1h-2.1zM756.2 641.1h2.1v11.1h-2.1zM757.7 639.6h2.1v12.6h-2.1zM759.2 636.6h2.1v14.1h-2.1zM760.7 636.6h2.1v11.1h-2.1zM762.2 636.6h2.1v11.1h-2.1zM763.7 633.6h2.1v12.6h-2.1zM765.2 632.1h2.1v14.1h-2.1zM766.7 632.1h2.1v11.1h-2.1zM768.2 629.1h2.1v14.1h-2.1zM769.7 629.1h2.1v9.6h-2.1zM771.2 629.1h2.1v9.6h-2.1zM772.7 627.6h2.1v11.1h-2.1zM774.2 627.6h2.1v9.6h-2.1zM775.7 626.1h2.1v11.1h-2.1zM777.2 623.1h2.1v14.1h-2.1zM778.7 620.1h2.1v14.1h-2.1zM780.2 620.1h2.1v14.1h-2.1zM781.7 618.6h2.1v12.6h-2.1zM783.2 615.6h2.1v14.1h-2.1zM784.7 614.1h2.1v12.6h-2.1zM786.2 614.1h2.1v12.6h-2.1zM787.7 611.1h2.1v12.6h-2.1zM789.2 609.6h2.1v14.1h-2.1zM790.7 608.1h2.1v12.6h-2.1zM792.2 606.6h2.1v14.1h-2.1zM793.7 605.1h2.1v11.1h-2.1zM795.2 603.6h2.1v12.6h-2.1zM796.7 600.6h2.1v14.1h-2.1zM798.2 600.6h2.1v14.1h-2.1zM799.7 597.6h2.1v12.6h-2.1zM801.2 596.1h2.1v14.1h-2.1zM802.7 596.1h2.1v11.1h-2.1zM804.2 593.1h2.1v15.6h-2.1zM805.7 591.6h2.1v14.1h-2.1zM807.2 591.6h2.1v14.1h-2.1zM808.7 588.6h2.1v12.6h-2.1zM810.2 587.1h2.1v14.1h-2.1zM811.7 587.1h2.1v11.1h-2.1zM813.2 584.1h2.1v14.1h-2.1zM814.7 584.1h2.1v9.6h-2.1zM816.2 584.1h2.1v9.6h-2.1zM817.7 581.1h2.1v12.6h-2.1zM819.2 579.6h2.1v14.1h-2.1zM820.7 576.6h2.1v14.1h-2.1zM822.2 576.6h2.1v14.1h-2.1zM823.7 573.6h2.1v14.1h-2.1zM825.2 572.1h2.1v15.6h-2.1zM826.7 570.6h2.1v12.6h-2.1zM828.2 569.1h2.1v14.1h-2.1zM829.7 567.6h2.1v11.1h-2.1zM831.2 567.6h2.1v11.1h-2.1zM832.7 566.1h2.1v11.1h-2.1zM834.2 566.1h2.1v11.1h-2.1zM835.7 563.1h2.1v12.6h-2.1zM837.2 561.6h2.1v14.1h-2.1zM838.7 561.6h2.1v11.1h-2.1zM840.2 558.6h2.1v14.1h-2.1zM841.7 557.1h2.1v11.1h-2.1zM843.2 557.1h2.1v11.1h-2.1zM844.7 557.1h2.1v9.6h-2.1zM846.2 552.6h2.1v14.1h-2.1zM847.7 552.6h2.1v11.1h-2.1zM849.2 552.6h2.1v11.1h-2.1zM850.7 551.1h2.1v11.1h-2.1zM852.2 549.6h2.1v12.6h-2.1zM853.7 549.6h2.1v9.6h-2.1zM855.2 546.6h2.1v12.6h-2.1zM856.7 543.6h2.1v12.6h-2.1zM858.2 543.6h2.1v12.6h-2.1zM859.7 542.1h2.1v12.6h-2.1zM861.2 539.1h2.1v15.6h-2.1zM862.7 537.6h2.1v14.1h-2.1zM864.2 537.6h2.1v14.1h-2.1zM865.7 536.1h2.1v11.1h-2.1zM867.2 533.1h2.1v14.1h-2.1zM868.7 531.6h2.1v12.6h-2.1zM870.2 531.6h2.1v12.6h-2.1zM871.7 531.6h2.1v11.1h-2.1zM873.2 527.1h2.1v15.6h-2.1zM874.7 527.1h2.1v12.6h-2.1zM876.2 527.1h2.1v12.6h-2.1zM877.7 525.6h2.1v12.6h-2.1zM879.2 525.6h2.1v12.6h-2.1zM880.7 525.6h2.1v9.6h-2.1zM882.2 521.1h2.1v14.1h-2.1zM883.7 519.6h2.1v12.6h-2.1zM885.2 519.6h2.1v12.6h-2.1zM886.7 516.6h2.1v14.1h-2.1zM888.2 515.1h2.1v15.6h-2.1zM889.7 513.6h2.1v14.1h-2.1zM891.2 512.1h2.1v15.6h-2.1zM892.7 512.1h2.1v9.6h-2.1zM894.2 509.1h2.1v12.6h-2.1zM895.7 509.1h2.1v9.6h-2.1zM897.2 507.6h2.1v11.1h-2.1zM898.7 504.6h2.1v12.6h-2.1zM900.2 504.6h2.1v12.6h-2.1zM901.7 501.6h2.1v14.1h-2.1zM903.2 500.1h2.1v15.6h-2.1zM904.7 500.1h2.1v12.6h-2.1zM906.2 497.1h2.1v15.6h-2.1zM907.7 497.1h2.1v9.6h-2.1zM909.2 495.6h2.1v11.1h-2.1zM910.7 495.6h2.1v9.6h-2.1zM912.2 492.6h2.1v12.6h-2.1zM913.7 492.6h2.1v9.6h-2.1zM915.2 491.1h2.1v11.1h-2.1zM916.7 491.1h2.1v9.6h-2.1zM918.2 488.1h2.1v12.6h-2.1zM919.7 488.1h2.1v9.6h-2.1zM921.2 486.6h2.1v11.1h-2.1zM922.7 486.6h2.1v9.6h-2.1zM924.2 486.6h2.1v9.6h-2.1zM925.7 483.6h2.1v12.6h-2.1zM927.2 483.6h2.1v12.6h-2.1zM928.7 480.6h2.1v12.6h-2.1zM930.2 479.1h2.1v14.1h-2.1zM931.7 479.1h2.1v11.1h-2.1zM933.2 479.1h2.1v11.1h-2.1zM934.7 476.1h2.1v12.6h-2.1zM936.2 476.1h2.1v12.6h-2.1zM937.7 474.6h2.1v11.1h-2.1zM939.2 471.6h2.1v14.1h-2.1zM940.7 470.1h2.1v12.6h-2.1zM942.2 470.1h2.1v12.6h-2.1zM943.7 468.6h2.1v11.1h-2.1zM945.2 467.1h2.1v11.1h-2.1zM946.7 465.6h2.1v11.1h-2.1zM948.2 464.1h2.1v12.6h-2.1zM949.7 459.6h2.1v14.1h-2.1zM951.2 459.6h2.1v14.1h-2.1zM952.7 458.1h2.1v12.6h-2.1zM954.2 455.1h2.1v15.6h-2.1zM955.7 455.1h2.1v12.6h-2.1zM957.2 453.6h2.1v14.1h-2.1zM958.7 450.6h2.1v12.6h-2.1zM960.2 450.6h2.1v12.6h-2.1zM961.7 450.6h2.1v9.6h-2.1zM963.2 446.1h2.1v14.1h-2.1zM964.7 446.1h2.1v11.1h-2.1zM966.2 446.1h2.1v11.1h-2.1zM967.7 443.1h2.1v12.6h-2.1zM969.2 441.6h2.1v14.1h-2.1zM970.7 440.1h2.1v12.6h-2.1zM972.2 438.6h2.1v14.1h-2.1zM973.7 438.6h2.1v9.6h-2.1zM975.2 435.6h2.1v12.6h-2.1zM976.7 435.6h2.1v9.6h-2.1zM978.2 434.1h2.1v11.1h-2.1zM979.7 432.6h2.1v11.1h-2.1zM981.2 431.1h2.1v12.6h-2.1zM982.7 428.1h2.1v12.6h-2.1zM984.2 428.1h2.1v12.6h-2.1zM985.7 426.6h2.1v11.1h-2.1zM987.2 423.6h2.1v14.1h-2.1zM988.7 422.1h2.1v12.6h-2.1zM990.2 422.1h2.1v12.6h-2.1zM991.7 417.6h2.1v14.1h-2.1zM993.2 417.6h2.1v14.1h-2.1zM994.7 414.6h2.1v14.1h-2.1zM996.2 413.1h2.1v15.6h-2.1zM997.7 413.1h2.1v12.6h-2.1zM999.2 410.1h2.1v15.6h-2.1zM1000.7 410.1h2.1v11.1h-2.1zM1002.2 408.6h2.1v12.6h-2.1zM1003.7 405.6h2.1v12.6h-2.1zM1005.2 405.6h2.1v12.6h-2.1zM1006.7 404.1h2.1v11.1h-2.1zM1008.2 401.1h2.1v14.1h-2.1zM1009.7 401.1h2.1v11.1h-2.1zM1011.2 399.6h2.1v14.1h-2.1zM1012.7 399.6h2.1v11.1h-2.1zM1014.2 396.6h2.1v14.1h-2.1zM1015.7 396.6h2.1v9.6h-2.1zM1017.2 396.6h2.1v9.6h-2.1zM1018.7 395.1h2.1v11.1h-2.1zM1020.2 393.6h2.1v12.6h-2.1zM1021.7 392.1h2.1v11.1h-2.1zM1023.2 390.6h2.1v12.6h-2.1zM1024.7 389.1h2.1v11.1h-2.1zM1026.2 387.6h2.1v12.6h-2.1zM1027.7 384.6h2.1v12.6h-2.1zM1029.2 384.6h2.1v12.6h-2.1zM1030.7 383.1h2.1v11.1h-2.1zM1032.2 380.1h2.1v14.1h-2.1zM1033.7 377.1h2.1v14.1h-2.1zM1035.2 377.1h2.1v14.1h-2.1zM1036.7 375.6h2.1v12.6h-2.1zM1038.2 372.6h2.1v15.6h-2.1zM1039.7 372.6h2.1v12.6h-2.1zM1041.2 372.6h2.1v12.6h-2.1zM1042.7 368.1h2.1v14.1h-2.1zM1044.2 368.1h2.1v14.1h-2.1zM1045.7 366.6h2.1v12.6h-2.1zM1047.2 363.6h2.1v15.6h-2.1zM1048.7 363.6h2.1v11.1h-2.1zM1050.2 363.6h2.1v11.1h-2.1zM1051.7 362.1h2.1v11.1h-2.1zM1053.2 360.6h2.1v12.6h-2.1zM1054.7 359.1h2.1v11.1h-2.1zM1056.2 357.6h2.1v12.6h-2.1zM1057.7 357.6h2.1v9.6h-2.1zM1059.2 354.6h2.1v12.6h-2.1zM1060.7 354.6h2.1v9.6h-2.1zM1062.2 354.6h2.1v9.6h-2.1zM1063.7 354.6h2.1v9.6h-2.1zM1065.2 353.1h2.1v11.1h-2.1zM1066.7 351.6h2.1v11.1h-2.1zM1068.2 350.1h2.1v12.6h-2.1zM1069.7 347.1h2.1v12.6h-2.1zM1071.2 347.1h2.1v12.6h-2.1zM1072.7 347.1h2.1v9.6h-2.1zM1074.2 344.1h2.1v12.6h-2.1zM1075.7 344.1h2.1v9.6h-2.1zM1077.2 342.6h2.1v11.1h-2.1zM1078.7 339.6h2.1v12.6h-2.1zM1080.2 339.6h2.1v12.6h-2.1zM1081.7 336.6h2.1v12.6h-2.1zM1083.2 335.1h2.1v14.1h-2.1zM1084.7 333.6h2.1v12.6h-2.1zM1086.2 332.1h2.1v14.1h-2.1zM1087.7 332.1h2.1v9.6h-2.1zM1089.2 329.1h2.1v12.6h-2.1zM1090.7 329.1h2.1v9.6h-2.1zM1092.2 327.6h2.1v11.1h-2.1zM1093.7 326.1h2.1v11.1h-2.1zM1095.2 324.6h2.1v12.6h-2.1zM1096.7 324.6h2.1v9.6h-2.1zM1098.2 321.6h2.1v12.6h-2.1zM1099.7 321.6h2.1v11.1h-2.1zM1101.2 320.1h2.1v12.6h-2.1zM1102.7 317.1h2.1v12.6h-2.1zM1104.2 317.1h2.1v12.6h-2.1zM1105.7 315.6h2.1v11.1h-2.1zM1107.2 312.6h2.1v14.1h-2.1zM1108.7 311.1h2.1v12.6h-2.1zM1110.2 311.1h2.1v12.6h-2.1zM1111.7 309.6h2.1v11.1h-2.1zM1113.2 308.1h2.1v12.6h-2.1zM1114.7 305.1h2.1v12.6h-2.1zM1116.2 305.1h2.1v12.6h-2.1zM1117.7 302.1h2.1v12.6h-2.1zM1119.2 300.6h2.1v14.1h-2.1zM1120.7 299.1h2.1v12.6h-2.1zM1122.2 297.6h2.1v14.1h-2.1zM1123.7 296.1h2.1v11.1h-2.1zM1125.2 294.6h2.1v12.6h-2.1zM1126.7 294.6h2.1v9.6h-2.1zM1128.2 291.6h2.1v11.1h-2.1zM1129.7 291.6h2.1v11.1h-2.1zM1131.2 291.6h2.1v11.1h-2.1zM1132.7 290.1h2.1v11.1h-2.1zM1134.2 287.1h2.1v14.1h-2.1zM1135.7 287.1h2.1v11.1h-2.1zM1137.2 285.6h2.1v12.6h-2.1zM1138.7 285.6h2.1v9.6h-2.1zM1140.2 282.6h2.1v12.6h-2.1zM1141.7 281.1h2.1v11.1h-2.1zM1143.2 281.1h2.1v11.1h-2.1zM1144.7 279.6h2.1v11.1h-2.1zM1146.2 278.1h2.1v12.6h-2.1zM1147.7 278.1h2.1v9.6h-2.1zM1149.2 275.1h2.1v12.6h-2.1zM1150.7 275.1h2.1v9.6h-2.1zM1152.2 275.1h2.1v9.6h-2.1zM1153.7 273.6h2.1v11.1h-2.1zM1155.2 272.1h2.1v11.1h-2.1zM1156.7 272.1h2.1v9.6h-2.1zM1158.2 269.1h2.1v12.6h-2.1zM1159.7 269.1h2.1v9.6h-2.1zM1161.2 267.6h2.1v12.6h-2.1zM1162.7 266.1h2.1v11.1h-2.1zM1164.2 264.6h2.1v12.6h-2.1zM1165.7 264.6h2.1v9.6h-2.1zM1167.2 263.1h2.1v11.1h-2.1zM1168.7 263.1h2.1v9.6h-2.1zM1170.2 260.1h2.1v12.6h-2.1zM1171.7 257.1h2.1v12.6h-2.1zM1173.2 257.1h2.1v12.6h-2.1zM1174.7 257.1h2.1v11.1h-2.1zM1176.2 252.6h2.1v15.6h-2.1zM1177.7 252.6h2.1v12.6h-2.1zM1179.2 252.6h2.1v12.6h-2.1zM1180.7 251.1h2.1v11.1h-2.1zM1182.2 249.6h2.1v12.6h-2.1zM1183.7 249.6h2.1v9.6h-2.1zM1185.2 246.6h2.1v12.6h-2.1zM1186.7 246.6h2.1v9.6h-2.1zM1188.2 245.1h2.1v11.1h-2.1zM1189.7 245.1h2.1v9.6h-2.1zM1191.2 243.6h2.1v11.1h-2.1zM1192.7 242.1h2.1v11.1h-2.1zM1194.2 240.6h2.1v12.6h-2.1zM1195.7 239.1h2.1v11.1h-2.1zM1197.2 237.6h2.1v12.6h-2.1zM1198.7 237.6h2.1v9.6h-2.1zM1200.2 237.6h2.1v9.6h-2.1zM1201.7 237.6h2.1v9.6h-2.1zM1203.2 236.1h2.1v11.1h-2.1zM1204.7 236.1h2.1v9.6h-2.1zM1206.2 236.1h2.1v9.6h-2.1zM1207.7 236.1h2.1v9.6h-2.1zM1209.2 236.1h2.1v9.6h-2.1zM1210.7 236.1h2.1v9.6h-2.1zM1212.2 234.6h2.1v11.1h-2.1zM1213.7 231.6h2.1v12.6h-2.1zM1215.2 231.6h2.1v12.6h-2.1zM1216.7 227.1h2.1v15.6h-2.1zM1218.2 227.1h2.1v15.6h-2.1zM1219.7 222.6h2.1v17.1h-2.1zM1221.2 222.6h2.1v17.1h-2.1zM1222.7 221.1h2.1v12.6h-2.1zM1224.2 218.1h2.1v15.6h-2.1zM1225.7 218.1h2.1v11.1h-2.1zM1227.2 216.6h2.1v12.6h-2.1zM1228.7 216.6h2.1v9.6h-2.1zM1230.2 215.1h2.1v11.1h-2.1zM1231.7 215.1h2.1v9.6h-2.1zM1233.2 213.6h2.1v11.1h-2.1zM1234.7 213.6h2.1v9.6h-2.1zM1236.2 210.6h2.1v12.6h-2.1zM1237.7 210.6h2.1v9.6h-2.1zM1239.2 210.6h2.1v9.6h-2.1zM1240.7 210.6h2.1v9.6h-2.1zM1242.2 207.6h2.1v12.6h-2.1zM1243.7 207.6h2.1v9.6h-2.1zM1245.2 206.1h2.1v11.1h-2.1zM1246.7 207.6h2.1v9.6h-2.1zM1248.2 206.1h2.1v11.1h-2.1zM1249.7 206.1h2.1v9.6h-2.1zM1251.2 206.1h2.1v11.1h-2.1zM1252.7 206.1h2.1v11.1h-2.1zM1254.2 204.6h2.1v12.6h-2.1zM1255.7 204.6h2.1v9.6h-2.1zM1257.2 201.6h2.1v12.6h-2.1zM1258.7 200.1h2.1v11.1h-2.1zM1260.2 200.1h2.1v11.1h-2.1zM1261.7 200.1h2.1v9.6h-2.1zM1263.2 195.6h2.1v14.1h-2.1zM1264.7 195.6h2.1v11.1h-2.1zM1266.2 195.6h2.1v11.1h-2.1zM1267.7 197.1h2.1v9.6h-2.1zM1269.2 195.6h2.1v11.1h-2.1zM1270.7 195.6h2.1v9.6h-2.1zM1272.2 195.6h2.1v9.6h-2.1zM1273.7 195.6h2.1v9.6h-2.1zM1275.2 195.6h2.1v9.6h-2.1zM1276.7 195.6h2.1v9.6h-2.1zM1278.2 195.6h2.1v9.6h-2.1zM1279.7 195.6h2.1v9.6h-2.1zM1281.2 194.1h2.1v11.1h-2.1zM1282.7 194.1h2.1v9.6h-2.1zM1284.2 194.1h2.1v9.6h-2.1zM1285.7 194.1h2.1v9.6h-2.1zM1287.2 194.1h2.1v9.6h-2.1zM1288.7 194.1h2.1v9.6h-2.1zM1290.2 194.1h2.1v9.6h-2.1zM1291.7 194.1h2.1v9.6h-2.1zM1293.2 192.6h2.1v11.1h-2.1zM1294.7 192.6h2.1v9.6h-2.1zM1296.2 192.6h2.1v11.1h-2.1zM1297.7 194.1h2.1v9.6h-2.1zM1299.2 194.1h2.1v9.6h-2.1zM1300.7 191.1h2.1v12.6h-2.1zM1302.2 189.6h2.1v14.1h-2.1zM1303.7 189.6h2.1v11.1h-2.1zM1305.2 186.6h2.1v14.1h-2.1zM1306.7 186.6h2.1v9.6h-2.1zM1308.2 185.1h2.1v11.1h-2.1zM1309.7 185.1h2.1v9.6h-2.1zM1311.2 185.1h2.1v11.1h-2.1zM1312.7 186.6h2.1v9.6h-2.1zM1314.2 185.1h2.1v9.6h-2.1zM1315.7 185.1h2.1v9.6h-2.1zM1317.2 183.6h2.1v11.1h-2.1zM1318.7 183.6h2.1v9.6h-2.1zM1320.2 183.6h2.1v11.1h-2.1zM1321.7 185.1h2.1v9.6h-2.1zM1323.2 185.1h2.1v9.6h-2.1zM1324.7 185.1h2.1v9.6h-2.1zM1326.2 185.1h2.1v11.1h-2.1zM1327.7 186.6h2.1v9.6h-2.1zM1329.2 183.6h2.1v12.6h-2.1zM1330.7 183.6h2.1v9.6h-2.1zM1332.2 183.6h2.1v9.6h-2.1zM1333.7 183.6h2.1v9.6h-2.1zM1335.2 183.6h2.1v9.6h-2.1zM1336.7 183.6h2.1v9.6h-2.1zM1338.2 180.6h2.1v11.1h-2.1zM1339.7 180.6h2.1v9.6h-2.1zM1341.2 180.6h2.1v9.6h-2.1zM1342.7 180.6h2.1v11.1h-2.1zM1344.2 180.6h2.1v11.1h-2.1zM1345.7 182.1h2.1v11.1h-2.1zM1347.2 182.1h2.1v12.6h-2.1zM1348.7 186.6h2.1v11.1h-2.1zM1350.2 186.6h2.1v11.1h-2.1zM1351.7 186.6h2.1v12.6h-2.1zM1353.2 186.6h2.1v14.1h-2.1zM1354.7 191.1h2.1v9.6h-2.1zM1356.2 191.1h2.1v9.6h-2.1zM1357.7 191.1h2.1v9.6h-2.1zM1359.2 191.1h2.1v9.6h-2.1zM1360.7 191.1h2.1v9.6h-2.1zM1362.2 191.1h2.1v11.1h-2.1zM1363.7 192.6h2.1v9.6h-2.1zM1365.2 192.6h2.1v9.6h-2.1zM1366.7 192.6h2.1v9.6h-2.1zM1368.2 191.1h2.1v11.1h-2.1zM1369.7 191.1h2.1v9.6h-2.1zM1371.2 191.1h2.1v9.6h-2.1zM1372.7 191.1h2.1v9.6h-2.1zM1374.2 189.6h2.1v11.1h-2.1zM1375.7 189.6h2.1v9.6h-2.1zM1377.2 188.1h2.1v11.1h-2.1zM1378.7 186.6h2.1v9.6h-2.1zM1380.2 185.1h2.1v11.1h-2.1zM1381.7 185.1h2.1v11.1h-2.1zM1383.2 185.1h2.1v11.1h-2.1zM1384.7 186.6h2.1v12.6h-2.1zM1386.2 188.1h2.1v11.1h-2.1zM1387.7 189.6h2.1v12.6h-2.1zM1389.2 189.6h2.1v12.6h-2.1zM1390.7 192.6h2.1v11.1h-2.1zM1392.2 192.6h2.1v12.6h-2.1zM1393.7 195.6h2.1v9.6h-2.1zM1395.2 195.6h2.1v11.1h-2.1zM1396.7 197.1h2.1v9.6h-2.1zM1398.2 195.6h2.1v11.1h-2.1zM1399.7 195.6h2.1v9.6h-2.1zM1401.2 195.6h2.1v9.6h-2.1zM1402.7 195.6h2.1v9.6h-2.1zM1404.2 192.6h2.1v12.6h-2.1zM1405.7 192.6h2.1v9.6h-2.1zM1407.2 192.6h2.1v9.6h-2.1zM1408.7 194.1h2.1v9.6h-2.1zM1410.2 192.6h2.1v11.1h-2.1zM1411.7 192.6h2.1v11.1h-2.1zM1413.2 192.6h2.1v11.1h-2.1zM1414.7 194.1h2.1v14.1h-2.1zM1416.2 194.1h2.1v14.1h-2.1zM1417.7 195.6h2.1v15.6h-2.1zM1419.2 195.6h2.1v15.6h-2.1zM1420.7 200.1h2.1v12.6h-2.1zM1422.2 200.1h2.1v14.1h-2.1zM1423.7 204.6h2.1v9.6h-2.1zM1425.2 204.6h2.1v9.6h-2.1zM1426.7 204.6h2.1v9.6h-2.1zM1428.2 204.6h2.1v12.6h-2.1zM1429.7 207.6h2.1v9.6h-2.1zM1431.2 204.6h2.1v12.6h-2.1zM1432.7 204.6h2.1v9.6h-2.1zM1434.2 204.6h2.1v9.6h-2.1zM1435.7 204.6h2.1v9.6h-2.1zM1437.2 204.6h2.1v11.1h-2.1zM1438.7 206.1h2.1v9.6h-2.1zM1440.2 206.1h2.1v9.6h-2.1zM1441.7 206.1h2.1v11.1h-2.1zM1443.2 206.1h2.1v12.6h-2.1zM1444.7 209.1h2.1v15.6h-2.1zM1446.2 209.1h2.1v15.6h-2.1zM1447.7 210.6h2.1v15.6h-2.1zM1449.2 210.6h2.1v17.1h-2.1zM1450.7 215.1h2.1v14.1h-2.1zM1452.2 215.1h2.1v14.1h-2.1zM1453.7 219.6h2.1v12.6h-2.1zM1455.2 219.6h2.1v12.6h-2.1zM1456.7 221.1h2.1v14.1h-2.1zM1458.2 222.6h2.1v12.6h-2.1zM1459.7 225.6h2.1v9.6h-2.1zM1461.2 227.1h2.1v11.1h-2.1zM1462.7 228.6h2.1v9.6h-2.1zM1464.2 227.1h2.1v11.1h-2.1zM1465.7 227.1h2.1v9.6h-2.1zM1467.2 224.1h2.1v12.6h-2.1zM1468.7 224.1h2.1v11.1h-2.1zM1470.2 224.1h2.1v12.6h-2.1zM1471.7 227.1h2.1v9.6h-2.1zM1473.2 227.1h2.1v9.6h-2.1zM1474.7 227.1h2.1v14.1h-2.1zM1476.2 227.1h2.1v14.1h-2.1zM1477.7 230.1h2.1v17.1h-2.1zM1479.2 230.1h2.1v17.1h-2.1zM1480.7 234.6h2.1v18.6h-2.1zM1482.2 234.6h2.1v18.6h-2.1zM1483.7 239.1h2.1v17.1h-2.1zM1485.2 239.1h2.1v17.1h-2.1zM1486.7 245.1h2.1v15.6h-2.1zM1488.2 245.1h2.1v15.6h-2.1zM1489.7 249.6h2.1v15.6h-2.1zM1491.2 251.1h2.1v14.1h-2.1zM1492.7 254.1h2.1v11.1h-2.1zM1494.2 254.1h2.1v14.1h-2.1zM1495.7 258.6h2.1v9.6h-2.1zM1497.2 257.1h2.1v11.1h-2.1zM1498.7 257.1h2.1v9.6h-2.1zM1500.2 257.1h2.1v11.1h-2.1zM1501.7 258.6h2.1v9.6h-2.1zM1503.2 258.6h2.1v9.6h-2.1zM1504.7 258.6h2.1v12.6h-2.1zM1506.2 258.6h2.1v12.6h-2.1zM1507.7 263.1h2.1v14.1h-2.1zM1509.2 263.1h2.1v14.1h-2.1zM1510.7 264.6h2.1v15.6h-2.1zM1512.2 264.6h2.1v15.6h-2.1zM1513.7 269.1h2.1v18.6h-2.1zM1515.2 269.1h2.1v18.6h-2.1zM1516.7 273.6h2.1v18.6h-2.1zM1518.2 273.6h2.1v18.6h-2.1zM1519.7 278.1h2.1v20.1h-2.1zM1521.2 278.1h2.1v20.1h-2.1zM1522.7 285.6h2.1v17.1h-2.1zM1524.2 285.6h2.1v17.1h-2.1zM1525.7 290.1h2.1v18.6h-2.1zM1527.2 290.1h2.1v18.6h-2.1zM1528.7 296.1h2.1v20.1h-2.1zM1530.2 296.1h2.1v20.1h-2.1zM1531.7 300.6h2.1v23.1h-2.1zM1533.2 300.6h2.1v23.1h-2.1zM1534.7 308.1h2.1v21.6h-2.1zM1536.2 308.1h2.1v21.6h-2.1zM1537.7 314.1h2.1v21.6h-2.1zM1539.2 314.1h2.1v21.6h-2.1zM1540.7 321.6h2.1v20.1h-2.1zM1542.2 321.6h2.1v20.1h-2.1zM1543.7 327.6h2.1v18.6h-2.1zM1545.2 327.6h2.1v18.6h-2.1zM1546.7 333.6h2.1v20.1h-2.1zM1548.2 333.6h2.1v20.1h-2.1zM1549.7 338.1h2.1v24.6h-2.1zM1551.2 338.1h2.1v24.6h-2.1zM1552.7 344.1h2.1v24.6h-2.1zM1554.2 344.1h2.1v24.6h-2.1zM1555.7 351.6h2.1v24.6h-2.1zM1557.2 351.6h2.1v24.6h-2.1zM1558.7 359.1h2.1v23.1h-2.1zM1560.2 359.1h2.1v23.1h-2.1zM1561.7 365.1h2.1v27.6h-2.1zM1563.2 365.1h2.1v27.6h-2.1zM1564.7 372.6h2.1v29.1h-2.1zM1566.2 372.6h2.1v29.1h-2.1zM1567.7 380.1h2.1v33.6h-2.1zM1569.2 380.1h2.1v33.6h-2.1zM1570.7 390.6h2.1v36.6h-2.1zM1572.2 390.6h2.1v36.6h-2.1zM1573.7 399.6h2.1v42.6h-2.1zM1575.2 399.6h2.1v42.6h-2.1zM1576.7 411.6h2.1v47.1h-2.1zM1578.2 411.6h2.1v47.1h-2.1zM1579.7 425.1h2.1v54.6h-2.1zM1581.2 425.1h2.1v54.6h-2.1zM1582.7 441.6h2.1v62.1h-2.1zM1584.2 441.6h2.1v62.1h-2.1zM1585.7 456.6h2.1v74.1h-2.1zM1587.2 456.6h2.1v74.1h-2.1zM1588.7 477.6h2.1v80.1h-2.1zM1590.2 477.6h2.1v80.1h-2.1zM1591.7 501.6h2.1v81.6h-2.1zM1593.2 501.6h2.1v81.6h-2.1zM1594.7 528.6h2.1v84.6h-2.1zM1596.2 528.6h2.1v84.6h-2.1zM1597.7 555.6h2.1v87.6h-2.1zM1599.2 555.6h2.1v87.6h-2.1zM1600.7 581.1h2.1v86.1h-2.1zM1602.2 581.1h2.1v86.1h-2.1zM1603.7 611.1h2.1v80.1h-2.1zM1605.2 611.1h2.1v80.1h-2.1zM1606.7 641.1h2.1v81.6h-2.1zM1608.2 641.1h2.1v81.6h-2.1zM1609.7 665.1h2.1v80.1h-2.1zM1611.2 665.1h2.1v80.1h-2.1zM1612.7 689.1h2.1v86.1h-2.1zM1614.2 689.1h2.1v86.1h-2.1zM1615.7 720.6h2.1v83.1h-2.1zM1617.2 720.6h2.1v83.1h-2.1zM1618.7 743.1h2.1v84.6h-2.1zM1620.2 743.1h2.1v84.6h-2.1zM1621.7 773.1h2.1v72.6h-2.1zM1623.2 773.1h2.1v72.6h-2.1zM1624.7 801.6h2.1v65.1h-2.1zM1626.2 801.6h2.1v65.1h-2.1zM1627.7 825.6h2.1v60.6h-2.1zM1629.2 825.6h2.1v60.6h-2.1zM1630.7 845.1h2.1v59.1h-2.1zM1632.2 845.1h2.1v59.1h-2.1zM1633.7 864.6h2.1v65.1h-2.1zM1635.2 864.6h2.1v65.1h-2.1zM1636.7 885.6h2.1v63.6h-2.1zM1638.2 885.6h2.1v63.6h-2.1zM1639.7 902.1h2.1v237.2h-2.1zM1641.2 902.1h2.1v237.2h-2.1zM1642.7 927.6h2.1v211.7h-2.1zM1644.2 927.6h2.1v211.7h-2.1zM1645.7 947.1h2.1v192.2h-2.1zM1647.2 947.1h2.1v192.2h-2.1z" fill="#176CDF"/>
<path d="M493.7 1013.1h2.1v126.2h-2.1zM495.2 1013.1h2.1v126.2h-2.1zM496.7 995.1h2.1v144.2h-2.1zM498.2 995.1h2.1v144.2h-2.1zM499.7 975.6h2.1v163.7h-2.1zM501.2 975.6h2.1v163.7h-2.1zM502.7 959.1h2.1v56.1h-2.1zM504.2 959.1h2.1v56.1h-2.1zM505.7 945.6h2.1v51.6h-2.1zM507.2 945.6h2.1v51.6h-2.1zM508.7 930.6h2.1v47.1h-2.1zM510.2 930.6h2.1v47.1h-2.1zM511.7 914.1h2.1v47.1h-2.1zM513.2 914.1h2.1v47.1h-2.1zM514.7 902.1h2.1v45.6h-2.1zM516.2 902.1h2.1v45.6h-2.1zM517.7 890.1h2.1v41.1h-2.1zM519.2 890.1h2.1v41.1h-2.1zM520.7 878.1h2.1v39.6h-2.1zM522.2 878.1h2.1v39.6h-2.1zM523.7 866.1h2.1v38.1h-2.1zM525.2 866.1h2.1v38.1h-2.1zM526.7 852.6h2.1v39.6h-2.1zM528.2 852.6h2.1v39.6h-2.1zM529.7 839.1h2.1v41.1h-2.1zM531.2 839.1h2.1v41.1h-2.1zM532.7 830.1h2.1v38.1h-2.1zM534.2 830.1h2.1v38.1h-2.1zM535.7 821.1h2.1v33.6h-2.1zM537.2 821.1h2.1v33.6h-2.1zM538.7 813.6h2.1v27.6h-2.1zM540.2 813.6h2.1v27.6h-2.1zM541.7 804.6h2.1v27.6h-2.1zM543.2 804.6h2.1v27.6h-2.1zM544.7 797.1h2.1v27.6h-2.1zM546.2 797.1h2.1v27.6h-2.1zM547.7 792.6h2.1v23.1h-2.1zM549.2 792.6h2.1v23.1h-2.1zM550.7 786.6h2.1v21.6h-2.1zM552.2 786.6h2.1v21.6h-2.1zM553.7 780.6h2.1v21.6h-2.1zM555.2 780.6h2.1v21.6h-2.1zM556.7 774.6h2.1v20.1h-2.1zM558.2 774.6h2.1v20.1h-2.1zM559.7 768.6h2.1v20.1h-2.1zM561.2 768.6h2.1v20.1h-2.1zM562.7 764.1h2.1v18.6h-2.1zM564.2 764.1h2.1v18.6h-2.1zM565.7 759.6h2.1v17.1h-2.1zM567.2 759.6h2.1v17.1h-2.1zM568.7 755.1h2.1v15.6h-2.1zM570.2 755.1h2.1v15.6h-2.1zM571.7 749.1h2.1v18.6h-2.1zM573.2 749.1h2.1v18.6h-2.1zM574.7 746.1h2.1v15.6h-2.1zM576.2 744.6h2.1v17.1h-2.1zM577.7 743.1h2.1v14.1h-2.1zM579.2 741.6h2.1v15.6h-2.1zM580.7 738.6h2.1v12.6h-2.1zM582.2 738.6h2.1v12.6h-2.1zM583.7 735.6h2.1v12.6h-2.1zM585.2 734.1h2.1v14.1h-2.1zM586.7 732.6h2.1v12.6h-2.1zM588.2 731.1h2.1v14.1h-2.1zM589.7 726.6h2.1v15.6h-2.1zM591.2 726.6h2.1v15.6h-2.1zM592.7 725.1h2.1v12.6h-2.1zM594.2 722.1h2.1v15.6h-2.1zM595.7 722.1h2.1v12.6h-2.1zM597.2 722.1h2.1v12.6h-2.1zM598.7 719.1h2.1v11.1h-2.1zM600.2 717.6h2.1v12.6h-2.1zM601.7 714.6h2.1v12.6h-2.1zM603.2 714.6h2.1v12.6h-2.1zM604.7 711.6h2.1v12.6h-2.1zM606.2 710.1h2.1v14.1h-2.1zM607.7 710.1h2.1v9.6h-2.1zM609.2 707.1h2.1v12.6h-2.1zM610.7 707.1h2.1v12.6h-2.1zM612.2 705.6h2.1v14.1h-2.1zM613.7 704.1h2.1v11.1h-2.1zM615.2 704.1h2.1v11.1h-2.1zM616.7 699.6h2.1v14.1h-2.1zM618.2 699.6h2.1v14.1h-2.1zM619.7 698.1h2.1v12.6h-2.1zM621.2 696.6h2.1v14.1h-2.1zM622.7 692.1h2.1v14.1h-2.1zM624.2 692.1h2.1v14.1h-2.1zM625.7 687.6h2.1v15.6h-2.1zM627.2 687.6h2.1v15.6h-2.1zM628.7 684.6h2.1v17.1h-2.1zM630.2 684.6h2.1v17.1h-2.1zM631.7 680.1h2.1v15.6h-2.1zM633.2 680.1h2.1v15.6h-2.1zM634.7 677.1h2.1v12.6h-2.1zM636.2 675.6h2.1v14.1h-2.1zM637.7 675.6h2.1v11.1h-2.1zM639.2 672.6h2.1v14.1h-2.1zM640.7 672.6h2.1v9.6h-2.1zM642.2 672.6h2.1v9.6h-2.1zM643.7 672.6h2.1v9.6h-2.1zM645.2 671.1h2.1v11.1h-2.1zM646.7 671.1h2.1v9.6h-2.1zM648.2 668.1h2.1v12.6h-2.1zM649.7 666.6h2.1v11.1h-2.1zM651.2 666.6h2.1v11.1h-2.1zM652.7 662.1h2.1v14.1h-2.1zM654.2 662.1h2.1v14.1h-2.1zM655.7 656.1h2.1v17.1h-2.1zM657.2 656.1h2.1v17.1h-2.1zM658.7 656.1h2.1v12.6h-2.1zM660.2 651.6h2.1v17.1h-2.1zM661.7 653.1h2.1v11.1h-2.1zM663.2 651.6h2.1v12.6h-2.1zM664.7 648.6h2.1v12.6h-2.1zM666.2 648.6h2.1v12.6h-2.1zM667.7 647.1h2.1v11.1h-2.1zM669.2 644.1h2.1v14.1h-2.1zM670.7 644.1h2.1v11.1h-2.1zM672.2 642.6h2.1v12.6h-2.1zM673.7 641.1h2.1v11.1h-2.1zM675.2 641.1h2.1v11.1h-2.1zM676.7 638.1h2.1v12.6h-2.1zM678.2 636.6h2.1v14.1h-2.1zM679.7 636.6h2.1v11.1h-2.1zM681.2 633.6h2.1v14.1h-2.1zM682.7 632.1h2.1v11.1h-2.1zM684.2 632.1h2.1v11.1h-2.1zM685.7 630.6h2.1v11.1h-2.1zM687.2 629.1h2.1v12.6h-2.1zM688.7 627.6h2.1v11.1h-2.1zM690.2 626.1h2.1v12.6h-2.1zM691.7 624.6h2.1v11.1h-2.1zM693.2 623.1h2.1v12.6h-2.1zM694.7 623.1h2.1v9.6h-2.1zM696.2 620.1h2.1v12.6h-2.1zM697.7 620.1h2.1v9.6h-2.1zM699.2 620.1h2.1v9.6h-2.1zM700.7 615.6h2.1v14.1h-2.1zM702.2 615.6h2.1v14.1h-2.1zM703.7 611.1h2.1v15.6h-2.1zM705.2 611.1h2.1v15.6h-2.1zM706.7 609.6h2.1v12.6h-2.1zM708.2 606.6h2.1v15.6h-2.1zM709.7 603.6h2.1v14.1h-2.1zM711.2 603.6h2.1v14.1h-2.1zM712.7 599.1h2.1v14.1h-2.1zM714.2 599.1h2.1v14.1h-2.1zM715.7 597.6h2.1v12.6h-2.1zM717.2 594.6h2.1v15.6h-2.1zM718.7 594.6h2.1v11.1h-2.1zM720.2 593.1h2.1v12.6h-2.1zM721.7 590.1h2.1v12.6h-2.1zM723.2 590.1h2.1v12.6h-2.1zM724.7 587.1h2.1v12.6h-2.1zM726.2 585.6h2.1v14.1h-2.1zM727.7 585.6h2.1v11.1h-2.1zM729.2 582.6h2.1v14.1h-2.1zM730.7 582.6h2.1v11.1h-2.1zM732.2 581.1h2.1v14.1h-2.1zM733.7 578.1h2.1v14.1h-2.1zM735.2 578.1h2.1v14.1h-2.1zM736.7 575.1h2.1v12.6h-2.1zM738.2 573.6h2.1v14.1h-2.1zM739.7 572.1h2.1v12.6h-2.1zM741.2 570.6h2.1v14.1h-2.1zM742.7 569.1h2.1v11.1h-2.1zM744.2 567.6h2.1v12.6h-2.1zM745.7 566.1h2.1v11.1h-2.1zM747.2 564.6h2.1v12.6h-2.1zM748.7 563.1h2.1v11.1h-2.1zM750.2 561.6h2.1v12.6h-2.1zM751.7 560.1h2.1v11.1h-2.1zM753.2 558.6h2.1v12.6h-2.1zM754.7 557.1h2.1v11.1h-2.1zM756.2 555.6h2.1v12.6h-2.1zM757.7 555.6h2.1v9.6h-2.1zM759.2 552.6h2.1v12.6h-2.1zM760.7 551.1h2.1v11.1h-2.1zM762.2 551.1h2.1v11.1h-2.1zM763.7 548.1h2.1v12.6h-2.1zM765.2 548.1h2.1v12.6h-2.1zM766.7 543.6h2.1v14.1h-2.1zM768.2 543.6h2.1v14.1h-2.1zM769.7 542.1h2.1v12.6h-2.1zM771.2 539.1h2.1v15.6h-2.1zM772.7 537.6h2.1v12.6h-2.1zM774.2 537.6h2.1v12.6h-2.1zM775.7 531.6h2.1v15.6h-2.1zM777.2 531.6h2.1v15.6h-2.1zM778.7 528.6h2.1v15.6h-2.1zM780.2 527.1h2.1v17.1h-2.1zM781.7 527.1h2.1v12.6h-2.1zM783.2 524.1h2.1v15.6h-2.1zM784.7 524.1h2.1v9.6h-2.1zM786.2 524.1h2.1v9.6h-2.1zM787.7 522.6h2.1v11.1h-2.1zM789.2 519.6h2.1v14.1h-2.1zM790.7 516.6h2.1v14.1h-2.1zM792.2 516.6h2.1v14.1h-2.1zM793.7 515.1h2.1v12.6h-2.1zM795.2 512.1h2.1v15.6h-2.1zM796.7 512.1h2.1v12.6h-2.1zM798.2 510.6h2.1v14.1h-2.1zM799.7 507.6h2.1v12.6h-2.1zM801.2 507.6h2.1v12.6h-2.1zM802.7 503.1h2.1v15.6h-2.1zM804.2 503.1h2.1v15.6h-2.1zM805.7 500.1h2.1v14.1h-2.1zM807.2 498.6h2.1v15.6h-2.1zM808.7 498.6h2.1v11.1h-2.1zM810.2 495.6h2.1v14.1h-2.1zM811.7 494.1h2.1v12.6h-2.1zM813.2 494.1h2.1v12.6h-2.1zM814.7 489.6h2.1v14.1h-2.1zM816.2 489.6h2.1v14.1h-2.1zM817.7 485.1h2.1v15.6h-2.1zM819.2 485.1h2.1v15.6h-2.1zM820.7 480.6h2.1v14.1h-2.1zM822.2 480.6h2.1v14.1h-2.1zM823.7 477.6h2.1v14.1h-2.1zM825.2 476.1h2.1v15.6h-2.1zM826.7 473.1h2.1v14.1h-2.1zM828.2 473.1h2.1v14.1h-2.1zM829.7 467.1h2.1v15.6h-2.1zM831.2 467.1h2.1v15.6h-2.1zM832.7 464.1h2.1v15.6h-2.1zM834.2 462.6h2.1v17.1h-2.1zM835.7 461.1h2.1v14.1h-2.1zM837.2 461.1h2.1v14.1h-2.1zM838.7 458.1h2.1v12.6h-2.1zM840.2 456.6h2.1v14.1h-2.1zM841.7 455.1h2.1v12.6h-2.1zM843.2 455.1h2.1v12.6h-2.1zM844.7 452.1h2.1v12.6h-2.1zM846.2 450.6h2.1v14.1h-2.1zM847.7 446.1h2.1v15.6h-2.1zM849.2 446.1h2.1v15.6h-2.1zM850.7 444.6h2.1v12.6h-2.1zM852.2 441.6h2.1v15.6h-2.1zM853.7 441.6h2.1v12.6h-2.1zM855.2 440.1h2.1v14.1h-2.1zM856.7 438.6h2.1v11.1h-2.1zM858.2 437.1h2.1v12.6h-2.1zM859.7 434.1h2.1v12.6h-2.1zM861.2 434.1h2.1v12.6h-2.1zM862.7 432.6h2.1v11.1h-2.1zM864.2 429.6h2.1v14.1h-2.1zM865.7 428.1h2.1v12.6h-2.1zM867.2 428.1h2.1v12.6h-2.1zM868.7 423.6h2.1v14.1h-2.1zM870.2 423.6h2.1v14.1h-2.1zM871.7 422.1h2.1v12.6h-2.1zM873.2 419.1h2.1v15.6h-2.1zM874.7 417.6h2.1v12.6h-2.1zM876.2 417.6h2.1v12.6h-2.1zM877.7 414.6h2.1v12.6h-2.1zM879.2 413.1h2.1v14.1h-2.1zM880.7 410.1h2.1v14.1h-2.1zM882.2 410.1h2.1v14.1h-2.1zM883.7 407.1h2.1v12.6h-2.1zM885.2 405.6h2.1v14.1h-2.1zM886.7 402.6h2.1v14.1h-2.1zM888.2 402.6h2.1v14.1h-2.1zM889.7 399.6h2.1v12.6h-2.1zM891.2 398.1h2.1v14.1h-2.1zM892.7 396.6h2.1v12.6h-2.1zM894.2 395.1h2.1v14.1h-2.1zM895.7 393.6h2.1v11.1h-2.1zM897.2 392.1h2.1v12.6h-2.1zM898.7 389.1h2.1v12.6h-2.1zM900.2 389.1h2.1v12.6h-2.1zM901.7 384.6h2.1v14.1h-2.1zM903.2 384.6h2.1v14.1h-2.1zM904.7 380.1h2.1v15.6h-2.1zM906.2 380.1h2.1v15.6h-2.1zM907.7 375.6h2.1v15.6h-2.1zM909.2 375.6h2.1v15.6h-2.1zM910.7 372.6h2.1v14.1h-2.1zM912.2 371.1h2.1v15.6h-2.1zM913.7 369.6h2.1v14.1h-2.1zM915.2 368.1h2.1v15.6h-2.1zM916.7 365.1h2.1v12.6h-2.1zM918.2 365.1h2.1v12.6h-2.1zM919.7 363.6h2.1v11.1h-2.1zM921.2 360.6h2.1v14.1h-2.1zM922.7 359.1h2.1v12.6h-2.1zM924.2 359.1h2.1v12.6h-2.1zM925.7 356.1h2.1v12.6h-2.1zM927.2 354.6h2.1v14.1h-2.1zM928.7 351.6h2.1v14.1h-2.1zM930.2 351.6h2.1v14.1h-2.1zM931.7 350.1h2.1v11.1h-2.1zM933.2 347.1h2.1v14.1h-2.1zM934.7 345.6h2.1v12.6h-2.1zM936.2 345.6h2.1v12.6h-2.1zM937.7 341.1h2.1v14.1h-2.1zM939.2 341.1h2.1v14.1h-2.1zM940.7 338.1h2.1v14.1h-2.1zM942.2 336.6h2.1v15.6h-2.1zM943.7 333.6h2.1v12.6h-2.1zM945.2 333.6h2.1v12.6h-2.1zM946.7 332.1h2.1v11.1h-2.1zM948.2 329.1h2.1v14.1h-2.1zM949.7 326.1h2.1v14.1h-2.1zM951.2 326.1h2.1v14.1h-2.1zM952.7 324.6h2.1v12.6h-2.1zM954.2 321.6h2.1v15.6h-2.1zM955.7 321.6h2.1v12.6h-2.1zM957.2 320.1h2.1v14.1h-2.1zM958.7 317.1h2.1v12.6h-2.1zM960.2 317.1h2.1v12.6h-2.1zM961.7 314.1h2.1v14.1h-2.1zM963.2 312.6h2.1v15.6h-2.1zM964.7 309.6h2.1v14.1h-2.1zM966.2 309.6h2.1v14.1h-2.1zM967.7 306.6h2.1v14.1h-2.1zM969.2 305.1h2.1v15.6h-2.1zM970.7 302.1h2.1v15.6h-2.1zM972.2 302.1h2.1v15.6h-2.1zM973.7 300.6h2.1v11.1h-2.1zM975.2 297.6h2.1v14.1h-2.1zM976.7 296.1h2.1v12.6h-2.1zM978.2 296.1h2.1v12.6h-2.1zM979.7 293.1h2.1v11.1h-2.1zM981.2 291.6h2.1v12.6h-2.1zM982.7 288.6h2.1v12.6h-2.1zM984.2 288.6h2.1v12.6h-2.1zM985.7 284.1h2.1v14.1h-2.1zM987.2 284.1h2.1v14.1h-2.1zM988.7 279.6h2.1v14.1h-2.1zM990.2 279.6h2.1v14.1h-2.1zM991.7 275.1h2.1v15.6h-2.1zM993.2 275.1h2.1v15.6h-2.1zM994.7 270.6h2.1v15.6h-2.1zM996.2 270.6h2.1v15.6h-2.1zM997.7 267.6h2.1v14.1h-2.1zM999.2 266.1h2.1v15.6h-2.1zM1000.7 264.6h2.1v12.6h-2.1zM1002.2 263.1h2.1v14.1h-2.1zM1003.7 263.1h2.1v9.6h-2.1zM1005.2 260.1h2.1v12.6h-2.1zM1006.7 260.1h2.1v9.6h-2.1zM1008.2 260.1h2.1v11.1h-2.1zM1009.7 257.1h2.1v12.6h-2.1zM1011.2 257.1h2.1v12.6h-2.1zM1012.7 252.6h2.1v14.1h-2.1zM1014.2 252.6h2.1v14.1h-2.1zM1015.7 246.6h2.1v17.1h-2.1zM1017.2 246.6h2.1v17.1h-2.1zM1018.7 242.1h2.1v17.1h-2.1zM1020.2 242.1h2.1v17.1h-2.1zM1021.7 237.6h2.1v17.1h-2.1zM1023.2 237.6h2.1v17.1h-2.1zM1024.7 234.6h2.1v14.1h-2.1zM1026.2 233.1h2.1v15.6h-2.1zM1027.7 228.6h2.1v15.6h-2.1zM1029.2 228.6h2.1v15.6h-2.1zM1030.7 227.1h2.1v12.6h-2.1zM1032.2 224.1h2.1v15.6h-2.1zM1033.7 224.1h2.1v11.1h-2.1zM1035.2 222.6h2.1v12.6h-2.1zM1036.7 219.6h2.1v12.6h-2.1zM1038.2 219.6h2.1v14.1h-2.1zM1039.7 218.1h2.1v12.6h-2.1zM1041.2 215.1h2.1v15.6h-2.1zM1042.7 213.6h2.1v12.6h-2.1zM1044.2 213.6h2.1v12.6h-2.1zM1045.7 209.1h2.1v14.1h-2.1zM1047.2 209.1h2.1v14.1h-2.1zM1048.7 204.6h2.1v15.6h-2.1zM1050.2 204.6h2.1v15.6h-2.1zM1051.7 200.1h2.1v15.6h-2.1zM1053.2 200.1h2.1v15.6h-2.1zM1054.7 197.1h2.1v14.1h-2.1zM1056.2 195.6h2.1v15.6h-2.1zM1057.7 192.6h2.1v12.6h-2.1zM1059.2 192.6h2.1v12.6h-2.1zM1060.7 188.1h2.1v14.1h-2.1zM1062.2 188.1h2.1v14.1h-2.1zM1063.7 185.1h2.1v14.1h-2.1zM1065.2 185.1h2.1v14.1h-2.1zM1066.7 182.1h2.1v12.6h-2.1zM1068.2 180.6h2.1v14.1h-2.1zM1069.7 179.1h2.1v12.6h-2.1zM1071.2 177.6h2.1v14.1h-2.1zM1072.7 177.6h2.1v9.6h-2.1zM1074.2 174.6h2.1v12.6h-2.1zM1075.7 174.6h2.1v9.6h-2.1zM1077.2 174.6h2.1v9.6h-2.1zM1078.7 170.1h2.1v14.1h-2.1zM1080.2 170.1h2.1v14.1h-2.1zM1081.7 170.1h2.1v11.1h-2.1zM1083.2 165.6h2.1v15.6h-2.1zM1084.7 165.6h2.1v14.1h-2.1zM1086.2 165.6h2.1v14.1h-2.1zM1087.7 167.1h2.1v86.1h-2.1zM1089.2 168.6h2.1v84.6h-2.1zM1090.7 173.1h2.1v218.1h-2.1zM1092.2 173.1h2.1v218.1h-2.1zM1093.7 177.6h2.1v309.6h-2.1zM1095.2 177.6h2.1v309.6h-2.1zM1096.7 251.1h2.1v290.1h-2.1zM1098.2 251.1h2.1v290.1h-2.1zM1099.7 389.1h2.1v206.1h-2.1zM1101.2 389.1h2.1v206.1h-2.1zM1102.7 483.6h2.1v153.6h-2.1zM1104.2 483.6h2.1v153.6h-2.1zM1105.7 539.1h2.1v153.6h-2.1zM1107.2 539.1h2.1v153.6h-2.1zM1108.7 593.1h2.1v170.1h-2.1zM1110.2 593.1h2.1v170.1h-2.1zM1111.7 635.1h2.1v233.1h-2.1zM1113.2 635.1h2.1v233.1h-2.1zM1114.7 690.6h2.1v448.7h-2.1zM1116.2 690.6h2.1v448.7h-2.1zM1117.7 759.6h2.1v379.7h-2.1zM1119.2 759.6h2.1v379.7h-2.1zM1120.7 864.6h2.1v274.7h-2.1zM1122.2 864.6h2.1v274.7h-2.1z" fill="#31AB67"/>
<path d="M511.7 1088.1h2.1v51.2h-2.1zM513.2 1088.1h2.1v51.2h-2.1zM514.7 1062.6h2.1v76.7h-2.1zM516.2 1062.6h2.1v76.7h-2.1zM517.7 1049.1h2.1v90.2h-2.1zM519.2 1049.1h2.1v90.2h-2.1zM520.7 1038.6h2.1v51.6h-2.1zM522.2 1038.6h2.1v51.6h-2.1zM523.7 1029.6h2.1v33.6h-2.1zM525.2 1029.6h2.1v33.6h-2.1zM526.7 1022.1h2.1v29.1h-2.1zM528.2 1022.1h2.1v29.1h-2.1zM529.7 1011.6h2.1v30.6h-2.1zM531.2 1011.6h2.1v30.6h-2.1zM532.7 1004.1h2.1v27.6h-2.1zM534.2 1004.1h2.1v27.6h-2.1zM535.7 996.6h2.1v26.1h-2.1zM537.2 996.6h2.1v26.1h-2.1zM538.7 987.6h2.1v26.1h-2.1zM540.2 987.6h2.1v26.1h-2.1zM541.7 983.1h2.1v21.6h-2.1zM543.2 983.1h2.1v21.6h-2.1zM544.7 974.1h2.1v23.1h-2.1zM546.2 974.1h2.1v23.1h-2.1zM547.7 968.1h2.1v21.6h-2.1zM549.2 968.1h2.1v21.6h-2.1zM550.7 959.1h2.1v26.1h-2.1zM552.2 959.1h2.1v26.1h-2.1zM553.7 951.6h2.1v26.1h-2.1zM555.2 951.6h2.1v26.1h-2.1zM556.7 945.6h2.1v23.1h-2.1zM558.2 945.6h2.1v23.1h-2.1zM559.7 939.6h2.1v21.6h-2.1zM561.2 939.6h2.1v21.6h-2.1zM562.7 932.1h2.1v21.6h-2.1zM564.2 932.1h2.1v21.6h-2.1zM565.7 924.6h2.1v23.1h-2.1zM567.2 924.6h2.1v23.1h-2.1zM568.7 917.1h2.1v24.6h-2.1zM570.2 917.1h2.1v24.6h-2.1zM571.7 909.6h2.1v24.6h-2.1zM573.2 909.6h2.1v24.6h-2.1zM574.7 902.1h2.1v24.6h-2.1zM576.2 902.1h2.1v24.6h-2.1zM577.7 894.6h2.1v26.1h-2.1zM579.2 894.6h2.1v26.1h-2.1zM580.7 888.6h2.1v23.1h-2.1zM582.2 888.6h2.1v23.1h-2.1zM583.7 884.1h2.1v20.1h-2.1zM585.2 884.1h2.1v20.1h-2.1zM586.7 879.6h2.1v17.1h-2.1zM588.2 879.6h2.1v17.1h-2.1zM589.7 876.6h2.1v14.1h-2.1zM591.2 876.6h2.1v14.1h-2.1zM592.7 872.1h2.1v15.6h-2.1zM594.2 872.1h2.1v15.6h-2.1zM595.7 869.1h2.1v14.1h-2.1zM597.2 867.6h2.1v15.6h-2.1zM598.7 861.6h2.1v17.1h-2.1zM600.2 861.6h2.1v17.1h-2.1zM601.7 860.1h2.1v14.1h-2.1zM603.2 857.1h2.1v17.1h-2.1zM604.7 854.1h2.1v17.1h-2.1zM606.2 854.1h2.1v17.1h-2.1zM607.7 849.6h2.1v15.6h-2.1zM609.2 849.6h2.1v15.6h-2.1zM610.7 848.1h2.1v14.1h-2.1zM612.2 845.1h2.1v17.1h-2.1zM613.7 842.1h2.1v14.1h-2.1zM615.2 842.1h2.1v14.1h-2.1zM616.7 839.1h2.1v14.1h-2.1zM618.2 837.6h2.1v15.6h-2.1zM619.7 836.1h2.1v14.1h-2.1zM621.2 834.6h2.1v15.6h-2.1zM622.7 833.1h2.1v11.1h-2.1zM624.2 831.6h2.1v12.6h-2.1zM625.7 827.1h2.1v14.1h-2.1zM627.2 827.1h2.1v14.1h-2.1zM628.7 824.1h2.1v14.1h-2.1zM630.2 822.6h2.1v15.6h-2.1zM631.7 821.1h2.1v14.1h-2.1zM633.2 819.6h2.1v15.6h-2.1zM634.7 815.1h2.1v14.1h-2.1zM636.2 815.1h2.1v14.1h-2.1zM637.7 812.1h2.1v14.1h-2.1zM639.2 812.1h2.1v14.1h-2.1zM640.7 809.1h2.1v14.1h-2.1zM642.2 807.6h2.1v15.6h-2.1zM643.7 806.1h2.1v12.6h-2.1zM645.2 804.6h2.1v14.1h-2.1zM646.7 801.6h2.1v14.1h-2.1zM648.2 801.6h2.1v14.1h-2.1zM649.7 798.6h2.1v12.6h-2.1zM651.2 797.1h2.1v14.1h-2.1zM652.7 795.6h2.1v12.6h-2.1zM654.2 794.1h2.1v14.1h-2.1zM655.7 794.1h2.1v9.6h-2.1zM657.2 791.1h2.1v12.6h-2.1zM658.7 791.1h2.1v9.6h-2.1zM660.2 789.6h2.1v11.1h-2.1zM661.7 786.6h2.1v12.6h-2.1zM663.2 786.6h2.1v14.1h-2.1zM664.7 786.6h2.1v11.1h-2.1zM666.2 785.1h2.1v12.6h-2.1zM667.7 780.6h2.1v14.1h-2.1zM669.2 780.6h2.1v14.1h-2.1zM670.7 777.6h2.1v14.1h-2.1zM672.2 776.1h2.1v15.6h-2.1zM673.7 773.1h2.1v15.6h-2.1zM675.2 773.1h2.1v15.6h-2.1zM676.7 768.6h2.1v15.6h-2.1zM678.2 768.6h2.1v15.6h-2.1zM679.7 764.1h2.1v15.6h-2.1zM681.2 764.1h2.1v15.6h-2.1zM682.7 762.6h2.1v12.6h-2.1zM684.2 759.6h2.1v15.6h-2.1zM685.7 759.6h2.1v11.1h-2.1zM687.2 759.6h2.1v11.1h-2.1zM688.7 758.1h2.1v11.1h-2.1zM690.2 755.1h2.1v14.1h-2.1zM691.7 753.6h2.1v12.6h-2.1zM693.2 753.6h2.1v12.6h-2.1zM694.7 752.1h2.1v11.1h-2.1zM696.2 749.1h2.1v14.1h-2.1zM697.7 747.6h2.1v12.6h-2.1zM699.2 747.6h2.1v12.6h-2.1zM700.7 747.6h2.1v9.6h-2.1zM702.2 743.1h2.1v14.1h-2.1zM703.7 741.6h2.1v12.6h-2.1zM705.2 741.6h2.1v12.6h-2.1zM706.7 740.1h2.1v12.6h-2.1zM708.2 737.1h2.1v15.6h-2.1zM709.7 737.1h2.1v12.6h-2.1zM711.2 735.6h2.1v14.1h-2.1zM712.7 734.1h2.1v11.1h-2.1zM714.2 734.1h2.1v11.1h-2.1zM715.7 732.6h2.1v9.6h-2.1zM717.2 729.6h2.1v12.6h-2.1zM718.7 726.6h2.1v12.6h-2.1zM720.2 726.6h2.1v12.6h-2.1zM721.7 725.1h2.1v12.6h-2.1zM723.2 722.1h2.1v15.6h-2.1zM724.7 722.1h2.1v12.6h-2.1zM726.2 720.6h2.1v14.1h-2.1zM727.7 717.6h2.1v12.6h-2.1zM729.2 717.6h2.1v12.6h-2.1zM730.7 711.6h2.1v15.6h-2.1zM732.2 711.6h2.1v15.6h-2.1zM733.7 708.6h2.1v15.6h-2.1zM735.2 707.1h2.1v17.1h-2.1zM736.7 707.1h2.1v12.6h-2.1zM738.2 704.1h2.1v15.6h-2.1zM739.7 704.1h2.1v9.6h-2.1zM741.2 704.1h2.1v11.1h-2.1zM742.7 704.1h2.1v9.6h-2.1zM744.2 702.6h2.1v11.1h-2.1zM745.7 702.6h2.1v9.6h-2.1zM747.2 701.1h2.1v11.1h-2.1zM748.7 699.6h2.1v11.1h-2.1zM750.2 698.1h2.1v12.6h-2.1zM751.7 698.1h2.1v9.6h-2.1zM753.2 695.1h2.1v12.6h-2.1zM754.7 695.1h2.1v9.6h-2.1zM756.2 693.6h2.1v11.1h-2.1zM757.7 692.1h2.1v11.1h-2.1zM759.2 692.1h2.1v11.1h-2.1zM760.7 687.6h2.1v14.1h-2.1zM762.2 687.6h2.1v14.1h-2.1zM763.7 686.1h2.1v12.6h-2.1zM765.2 683.1h2.1v15.6h-2.1zM766.7 681.6h2.1v11.1h-2.1zM768.2 681.6h2.1v11.1h-2.1zM769.7 680.1h2.1v11.1h-2.1zM771.2 677.1h2.1v14.1h-2.1zM772.7 675.6h2.1v12.6h-2.1zM774.2 675.6h2.1v12.6h-2.1zM775.7 675.6h2.1v9.6h-2.1zM777.2 672.6h2.1v12.6h-2.1zM778.7 672.6h2.1v9.6h-2.1zM780.2 671.1h2.1v11.1h-2.1zM781.7 669.6h2.1v9.6h-2.1zM783.2 668.1h2.1v11.1h-2.1zM784.7 666.6h2.1v9.6h-2.1zM786.2 665.1h2.1v11.1h-2.1zM787.7 663.6h2.1v11.1h-2.1zM789.2 663.6h2.1v11.1h-2.1zM790.7 662.1h2.1v11.1h-2.1zM792.2 660.6h2.1v12.6h-2.1zM793.7 656.1h2.1v14.1h-2.1zM795.2 656.1h2.1v14.1h-2.1zM796.7 654.6h2.1v11.1h-2.1zM798.2 651.6h2.1v14.1h-2.1zM799.7 651.6h2.1v11.1h-2.1zM801.2 650.1h2.1v12.6h-2.1zM802.7 648.6h2.1v11.1h-2.1zM804.2 647.1h2.1v12.6h-2.1zM805.7 644.1h2.1v12.6h-2.1zM807.2 644.1h2.1v12.6h-2.1zM808.7 642.6h2.1v11.1h-2.1zM810.2 641.1h2.1v12.6h-2.1zM811.7 639.6h2.1v11.1h-2.1zM813.2 638.1h2.1v12.6h-2.1zM814.7 638.1h2.1v9.6h-2.1zM816.2 636.6h2.1v11.1h-2.1zM817.7 636.6h2.1v9.6h-2.1zM819.2 635.1h2.1v11.1h-2.1zM820.7 635.1h2.1v9.6h-2.1zM822.2 633.6h2.1v11.1h-2.1zM823.7 633.6h2.1v56.1h-2.1zM825.2 633.6h2.1v56.1h-2.1zM826.7 635.1h2.1v182.1h-2.1zM828.2 635.1h2.1v182.1h-2.1zM829.7 638.1h2.1v324.6h-2.1zM831.2 638.1h2.1v324.6h-2.1zM832.7 687.6h2.1v365.1h-2.1zM834.2 687.6h2.1v365.1h-2.1zM835.7 815.1h2.1v324.2h-2.1zM837.2 815.1h2.1v324.2h-2.1zM838.7 959.1h2.1v180.2h-2.1zM840.2 959.1h2.1v180.2h-2.1zM841.7 1050.6h2.1v88.7h-2.1zM843.2 1050.6h2.1v88.7h-2.1z" fill="#AE72DD"/>
</g><g filter="url(#soft)">
<path d="M1674,134.9 H1853.5" stroke="#4b4b4b" stroke-width="9.2" stroke-linecap="round" fill="none"/>
<text class="b" x="1885" y="181.4" font-size="88">N-0</text>
<path d="M1674,243.6 H1853.5" stroke="#F03A3C" stroke-width="9.2" stroke-linecap="round" fill="none"/>
<text class="b" x="1885" y="282.8" font-size="88">N-0.5</text>
<path d="M1674,350.1 H1853.5" stroke="#176CDF" stroke-width="9.2" stroke-linecap="round" fill="none"/>
<text class="b" x="1885" y="383.0" font-size="88">N-1</text>
<path d="M1674,456.3 H1853.5" stroke="#31AB67" stroke-width="9.2" stroke-linecap="round" fill="none"/>
<text class="b" x="1885" y="484.7" font-size="88">N-3</text>
<path d="M1674,565.1 H1853.5" stroke="#AE72DD" stroke-width="9.2" stroke-linecap="round" fill="none"/>
<text class="b" x="1885" y="586.7" font-size="88">N-5</text>
</g>
</svg>
</body>
</html>
